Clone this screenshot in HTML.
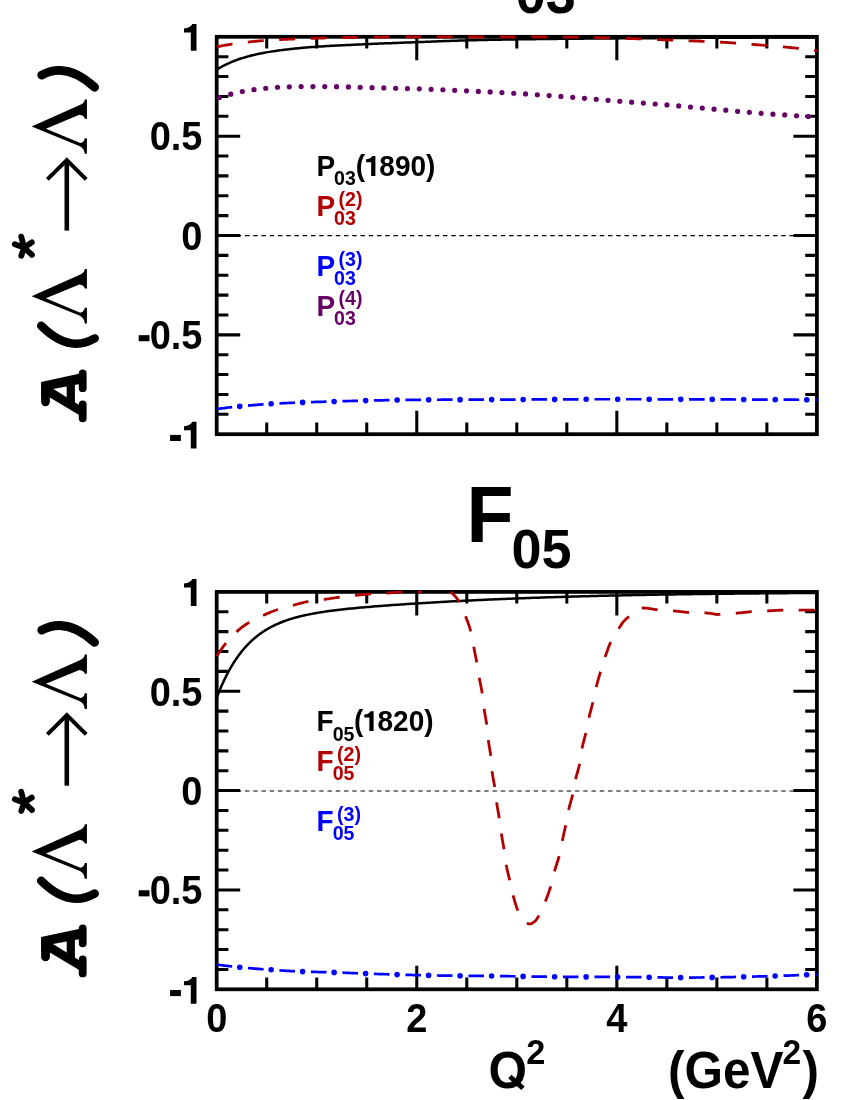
<!DOCTYPE html>
<html><head><meta charset="utf-8"><title>A(Lambda* to Lambda)</title>
<style>
html,body{margin:0;padding:0;background:#fff;}
body{width:850px;height:1100px;overflow:hidden;font-family:"Liberation Sans",sans-serif;}
svg{display:block;will-change:transform;}
svg text{font-family:"Liberation Sans",sans-serif;font-weight:bold;}
</style></head>
<body>
<svg width="850" height="1100" viewBox="0 0 850 1100">
<defs>
<g id="common">
<rect x="216.7" y="36.8" width="600.20" height="397.40" fill="none" stroke="#000" stroke-width="3.75"/>
<path d="M266.72,36.8v11.7 M266.72,434.2v-11.7 M316.73,36.8v11.7 M316.73,434.2v-11.7 M366.75,36.8v11.7 M366.75,434.2v-11.7 M416.77,36.8v23.5 M416.77,434.2v-23.5 M466.78,36.8v11.7 M466.78,434.2v-11.7 M516.80,36.8v11.7 M516.80,434.2v-11.7 M566.82,36.8v11.7 M566.82,434.2v-11.7 M616.83,36.8v23.5 M616.83,434.2v-23.5 M666.85,36.8v11.7 M666.85,434.2v-11.7 M716.87,36.8v11.7 M716.87,434.2v-11.7 M766.88,36.8v11.7 M766.88,434.2v-11.7 M216.7,414.33h11.7 M816.9,414.33h-11.7 M216.7,394.46h11.7 M816.9,394.46h-11.7 M216.7,374.59h11.7 M816.9,374.59h-11.7 M216.7,354.72h11.7 M816.9,354.72h-11.7 M216.7,334.85h23.5 M816.9,334.85h-23.5 M216.7,314.98h11.7 M816.9,314.98h-11.7 M216.7,295.11h11.7 M816.9,295.11h-11.7 M216.7,275.24h11.7 M816.9,275.24h-11.7 M216.7,255.37h11.7 M816.9,255.37h-11.7 M216.7,235.50h23.5 M816.9,235.50h-23.5 M216.7,215.63h11.7 M816.9,215.63h-11.7 M216.7,195.76h11.7 M816.9,195.76h-11.7 M216.7,175.89h11.7 M816.9,175.89h-11.7 M216.7,156.02h11.7 M816.9,156.02h-11.7 M216.7,136.15h23.5 M816.9,136.15h-23.5 M216.7,116.28h11.7 M816.9,116.28h-11.7 M216.7,96.41h11.7 M816.9,96.41h-11.7 M216.7,76.54h11.7 M816.9,76.54h-11.7 M216.7,56.67h11.7 M816.9,56.67h-11.7" fill="none" stroke="#000" stroke-width="3.05"/>
<path d="M196.50,50.80 h-5.7 v-18.4 h-6.8 v-4 q6.5,-0.4 8.3,-4.4 h4.2 Z" fill="#000"/>
<text transform="translate(202.50 150.45) scale(1 1.068)" font-size="38" text-anchor="end" fill="#000">0.5</text>
<text transform="translate(202.50 249.80) scale(1 1.068)" font-size="38" text-anchor="end" fill="#000">0</text>
<rect x="138.70" y="335.15" width="10.8" height="6.1" fill="#000"/>
<text transform="translate(202.50 349.15) scale(1 1.068)" font-size="38" text-anchor="end" fill="#000">0.5</text>
<rect x="170.10" y="434.90" width="10.8" height="6.1" fill="#000"/>
<path d="M196.50,448.60 h-5.7 v-18.4 h-6.8 v-4 q6.5,-0.4 8.3,-4.4 h4.2 Z" fill="#000"/>

<g fill="#000" stroke="none">
<path transform="translate(0 0.00)" d="M31.65,296.32 L80.89,274.29 Q84.38,272.71 84.80,269.11 L86.92,269.11 L86.92,288.38 L84.80,288.38
 Q84.17,285.2 79.30,284.57 L45.94,298.33 L80.36,312.63 Q84.17,311.9 84.80,307.86 L86.92,307.86 L86.92,323.53 L84.80,323.53
 Q84.17,317.7 79.30,315.59 Z"/>
<path transform="translate(0 -169.70)" d="M31.65,296.32 L80.89,274.29 Q84.38,272.71 84.80,269.11 L86.92,269.11 L86.92,288.38 L84.80,288.38
 Q84.17,285.2 79.30,284.57 L45.94,298.33 L80.36,312.63 Q84.17,311.9 84.80,307.86 L86.92,307.86 L86.92,323.53 L84.80,323.53
 Q84.17,317.7 79.30,315.59 Z"/>
</g>
<g fill="none" stroke="#000">
 <!-- A (Courier bold oblique look) -->
 <g stroke-linecap="round">
  <line x1="82.7" y1="373.4" x2="82.7" y2="388.2" stroke-width="7.8"/>
  <line x1="82.7" y1="404.3" x2="82.7" y2="418.3" stroke-width="7.8"/>
  <line x1="45.5" y1="390" x2="45.5" y2="401.8" stroke-width="8.7"/>
 </g>
 <polygon points="41.1,381.9 80,373.6 80,384 53,389 41.1,392" fill="#000" stroke="none"/>
 <polygon points="41.1,386 52.6,388.6 80,405.6 80,415.4 49.8,397.4 41.1,397" fill="#000" stroke="none"/>
 <rect x="66.7" y="382" width="8.2" height="24" fill="#000" stroke="none"/>
 <!-- ( -->
 <path d="M41.2,325.7 C51,335.5 63,343.4 76,343.7 C83,343.8 89.5,341.3 94.7,338.4" stroke-width="8.5" stroke-linecap="round"/>
 <!-- ) -->
 <path d="M41.7,75.1 C47.5,72 54,70.2 60.2,70.4 C73,70.8 85,78.5 94.6,87.3" stroke-width="8.8" stroke-linecap="round"/>
 <!-- arrow -->
 <line x1="66.8" y1="230.6" x2="66.8" y2="160" stroke-width="4.6"/>
 <polyline points="47.4,179.3 66.8,160.0 86.2,179.3" stroke-width="4" stroke-linejoin="miter" stroke-miterlimit="10"/>
 <!-- asterisk -->
 <g stroke-width="5.8" stroke-linecap="round">
  <line x1="24.1" y1="247.6" x2="21.2" y2="236.6"/>
  <line x1="24.1" y1="247.6" x2="31.8" y2="242.4"/>
  <line x1="24.1" y1="247.6" x2="32.0" y2="254.9"/>
  <line x1="24.1" y1="247.6" x2="21.3" y2="255.8"/>
  <line x1="24.1" y1="247.6" x2="14.8" y2="244.2"/>
 </g>
</g>

</g>
</defs>
<rect width="850" height="1100" fill="#fff"/>
<use href="#common"/>
<use href="#common" transform="translate(0 555.1)"/>

<!-- zero lines -->
<line x1="216.7" y1="235.6" x2="816.9" y2="235.6" stroke="#000" stroke-width="1.15" stroke-dasharray="4.45 3.8" stroke-dashoffset="4.7"/>
<line x1="216.7" y1="791.0" x2="816.9" y2="791.0" stroke="#000" stroke-width="1.1" stroke-dasharray="4.45 3.8" stroke-dashoffset="4.7"/>
<!-- titles -->
<text transform="translate(466.50 -12.70) scale(1 1.044)" font-size="77" text-anchor="start" fill="#000">P</text>
<text transform="translate(515.80 12.80) scale(1 1.044)" font-size="54" text-anchor="start" fill="#000">03</text>
<text transform="translate(466.50 542.40) scale(1 1.044)" font-size="77" text-anchor="start" fill="#000">F</text>
<text transform="translate(511.50 568.20) scale(1 1.044)" font-size="54" text-anchor="start" fill="#000">05</text>

<!-- x axis labels -->
<text transform="translate(216.70 1031.60) scale(1 1.068)" font-size="38" text-anchor="middle" fill="#000">0</text>
<text transform="translate(416.77 1031.60) scale(1 1.068)" font-size="38" text-anchor="middle" fill="#000">2</text>
<text transform="translate(616.83 1031.60) scale(1 1.068)" font-size="38" text-anchor="middle" fill="#000">4</text>
<text transform="translate(816.90 1031.60) scale(1 1.068)" font-size="38" text-anchor="middle" fill="#000">6</text>
<text transform="translate(488.40 1088.30) scale(1 1.044)" font-size="49.5" text-anchor="start" fill="#000">O</text>
<polygon points="511.5,1074.7 508.2,1078.2 521.2,1090 524.7,1086.5" fill="#000"/>
<text transform="translate(526.20 1063.90) scale(1 1.044)" font-size="34.3" text-anchor="start" fill="#000">2</text>
<text transform="translate(668.00 1088.30) scale(1 1.044)" font-size="49.5" text-anchor="start" fill="#000">(GeV</text>
<text transform="translate(782.60 1063.90) scale(1 1.044)" font-size="33.5" text-anchor="start" fill="#000">2</text>
<text transform="translate(802.60 1088.30) scale(1 1.044)" font-size="49.5" text-anchor="start" fill="#000">)</text>

<!-- legends -->
<text transform="translate(316.50 176.00) scale(1 1.044)" font-size="28" text-anchor="start" fill="#000">P</text>
<text transform="translate(334.10 185.40) scale(1 1.044)" font-size="19.6" text-anchor="start" fill="#000">03</text>
<text transform="translate(355.80 176.00) scale(1 1.044)" font-size="28" text-anchor="start" fill="#000">(</text>
<path transform="translate(375.40 176.00) scale(0.7442)" d="M0,0 h-5.7 v-18.4 h-6.8 v-4 q6.5,-0.4 8.3,-4.4 h4.2 Z" fill="#000"/>
<text transform="translate(379.31 176.00) scale(1 1.044)" font-size="28" text-anchor="start" fill="#000">890)</text>
<text transform="translate(316.50 215.70) scale(1 1.044)" font-size="28" text-anchor="start" fill="#b20000">P</text>
<text transform="translate(334.10 225.10) scale(1 1.044)" font-size="19.6" text-anchor="start" fill="#b20000">03</text>
<text transform="translate(338.50 205.65) scale(1 1.044)" font-size="19.6" text-anchor="start" fill="#b20000">(2)</text>
<text transform="translate(316.50 275.80) scale(1 1.044)" font-size="28" text-anchor="start" fill="#0000ff">P</text>
<text transform="translate(334.10 285.20) scale(1 1.044)" font-size="19.6" text-anchor="start" fill="#0000ff">03</text>
<text transform="translate(338.50 265.75) scale(1 1.044)" font-size="19.6" text-anchor="start" fill="#0000ff">(3)</text>
<text transform="translate(316.50 315.50) scale(1 1.044)" font-size="28" text-anchor="start" fill="#660066">P</text>
<text transform="translate(334.10 324.90) scale(1 1.044)" font-size="19.6" text-anchor="start" fill="#660066">03</text>
<text transform="translate(338.50 305.45) scale(1 1.044)" font-size="19.6" text-anchor="start" fill="#660066">(4)</text>
<text transform="translate(316.50 731.10) scale(1 1.044)" font-size="28" text-anchor="start" fill="#000">F</text>
<text transform="translate(332.70 740.50) scale(1 1.044)" font-size="19.6" text-anchor="start" fill="#000">05</text>
<text transform="translate(354.00 731.10) scale(1 1.044)" font-size="28" text-anchor="start" fill="#000">(</text>
<path transform="translate(373.60 731.10) scale(0.7442)" d="M0,0 h-5.7 v-18.4 h-6.8 v-4 q6.5,-0.4 8.3,-4.4 h4.2 Z" fill="#000"/>
<text transform="translate(377.51 731.10) scale(1 1.044)" font-size="28" text-anchor="start" fill="#000">820)</text>
<text transform="translate(316.50 770.80) scale(1 1.044)" font-size="28" text-anchor="start" fill="#b20000">F</text>
<text transform="translate(332.70 780.20) scale(1 1.044)" font-size="19.6" text-anchor="start" fill="#b20000">05</text>
<text transform="translate(337.10 760.75) scale(1 1.044)" font-size="19.6" text-anchor="start" fill="#b20000">(2)</text>
<text transform="translate(316.50 830.90) scale(1 1.044)" font-size="28" text-anchor="start" fill="#0000ff">F</text>
<text transform="translate(332.70 840.30) scale(1 1.044)" font-size="19.6" text-anchor="start" fill="#0000ff">05</text>
<text transform="translate(337.10 820.85) scale(1 1.044)" font-size="19.6" text-anchor="start" fill="#0000ff">(3)</text>

<!-- curves -->
<g fill="none">
<path d="M216.70,69.59 L218.20,68.70 L219.71,67.84 L221.21,67.01 L222.72,66.20 L224.22,65.42 L225.73,64.68 L227.23,63.98 L228.73,63.29 L230.24,62.63 L231.74,61.97 L233.25,61.34 L234.75,60.73 L236.26,60.14 L237.76,59.58 L239.26,59.05 L240.77,58.55 L242.27,58.09 L243.78,57.64 L245.28,57.21 L246.79,56.78 L248.29,56.37 L249.79,55.97 L251.30,55.58 L252.80,55.21 L254.31,54.84 L255.81,54.49 L257.32,54.15 L258.82,53.82 L260.32,53.51 L261.83,53.20 L263.33,52.91 L264.84,52.63 L266.34,52.36 L267.84,52.11 L269.35,51.86 L270.85,51.62 L272.36,51.38 L273.86,51.16 L275.37,50.94 L276.87,50.72 L278.37,50.52 L279.88,50.32 L281.38,50.12 L282.89,49.93 L284.39,49.75 L285.90,49.57 L287.40,49.40 L288.90,49.23 L290.41,49.06 L291.91,48.90 L293.42,48.74 L294.92,48.59 L296.43,48.44 L297.93,48.29 L299.43,48.14 L300.94,48.00 L302.44,47.86 L303.95,47.73 L305.45,47.60 L306.96,47.47 L308.46,47.35 L309.96,47.23 L311.47,47.11 L312.97,47.00 L314.48,46.89 L315.98,46.79 L317.49,46.68 L318.99,46.59 L320.49,46.49 L322.00,46.40 L323.50,46.30 L325.01,46.21 L326.51,46.12 L328.02,46.04 L329.52,45.95 L331.02,45.87 L332.53,45.78 L334.03,45.70 L335.54,45.62 L337.04,45.54 L338.55,45.47 L340.05,45.39 L341.55,45.32 L343.06,45.24 L344.56,45.17 L346.07,45.10 L347.57,45.02 L349.07,44.95 L350.58,44.88 L352.08,44.81 L353.59,44.74 L355.09,44.68 L356.60,44.61 L358.10,44.54 L359.60,44.47 L361.11,44.40 L362.61,44.34 L364.12,44.27 L365.62,44.20 L367.13,44.14 L368.63,44.07 L370.13,44.00 L371.64,43.94 L373.14,43.87 L374.65,43.81 L376.15,43.74 L377.66,43.68 L379.16,43.62 L380.66,43.56 L382.17,43.49 L383.67,43.43 L385.18,43.37 L386.68,43.31 L388.19,43.25 L389.69,43.19 L391.19,43.13 L392.70,43.08 L394.20,43.02 L395.71,42.96 L397.21,42.90 L398.72,42.85 L400.22,42.79 L401.72,42.73 L403.23,42.67 L404.73,42.62 L406.24,42.56 L407.74,42.50 L409.25,42.45 L410.75,42.39 L412.25,42.33 L413.76,42.28 L415.26,42.22 L416.77,42.16 L418.27,42.11 L419.78,42.05 L421.28,41.99 L422.78,41.93 L424.29,41.88 L425.79,41.82 L427.30,41.76 L428.80,41.70 L430.31,41.64 L431.81,41.58 L433.31,41.52 L434.82,41.46 L436.32,41.40 L437.83,41.35 L439.33,41.29 L440.83,41.23 L442.34,41.17 L443.84,41.12 L445.35,41.06 L446.85,41.01 L448.36,40.95 L449.86,40.90 L451.36,40.85 L452.87,40.79 L454.37,40.74 L455.88,40.69 L457.38,40.65 L458.89,40.60 L460.39,40.55 L461.89,40.51 L463.40,40.47 L464.90,40.43 L466.41,40.39 L467.91,40.35 L469.42,40.31 L470.92,40.27 L472.42,40.24 L473.93,40.20 L475.43,40.17 L476.94,40.13 L478.44,40.10 L479.95,40.06 L481.45,40.03 L482.95,40.00 L484.46,39.96 L485.96,39.93 L487.47,39.90 L488.97,39.87 L490.48,39.84 L491.98,39.81 L493.48,39.78 L494.99,39.75 L496.49,39.72 L498.00,39.70 L499.50,39.67 L501.01,39.64 L502.51,39.61 L504.01,39.59 L505.52,39.56 L507.02,39.54 L508.53,39.51 L510.03,39.49 L511.54,39.46 L513.04,39.44 L514.54,39.42 L516.05,39.39 L517.55,39.37 L519.06,39.35 L520.56,39.33 L522.06,39.31 L523.57,39.29 L525.07,39.26 L526.58,39.24 L528.08,39.22 L529.59,39.20 L531.09,39.18 L532.59,39.16 L534.10,39.15 L535.60,39.13 L537.11,39.11 L538.61,39.09 L540.12,39.07 L541.62,39.05 L543.12,39.04 L544.63,39.02 L546.13,39.00 L547.64,38.98 L549.14,38.97 L550.65,38.95 L552.15,38.94 L553.65,38.92 L555.16,38.90 L556.66,38.89 L558.17,38.87 L559.67,38.86 L561.18,38.84 L562.68,38.83 L564.18,38.81 L565.69,38.80 L567.19,38.78 L568.70,38.77 L570.20,38.76 L571.71,38.74 L573.21,38.73 L574.71,38.71 L576.22,38.70 L577.72,38.69 L579.23,38.67 L580.73,38.66 L582.24,38.65 L583.74,38.64 L585.24,38.62 L586.75,38.61 L588.25,38.60 L589.76,38.59 L591.26,38.58 L592.77,38.56 L594.27,38.55 L595.77,38.54 L597.28,38.53 L598.78,38.52 L600.29,38.51 L601.79,38.50 L603.29,38.49 L604.80,38.47 L606.30,38.46 L607.81,38.45 L609.31,38.44 L610.82,38.43 L612.32,38.42 L613.82,38.41 L615.33,38.40 L616.83,38.39 L618.34,38.38 L619.84,38.37 L621.35,38.36 L622.85,38.35 L624.35,38.34 L625.86,38.33 L627.36,38.32 L628.87,38.31 L630.37,38.30 L631.88,38.29 L633.38,38.28 L634.88,38.27 L636.39,38.26 L637.89,38.25 L639.40,38.24 L640.90,38.23 L642.41,38.22 L643.91,38.21 L645.41,38.20 L646.92,38.19 L648.42,38.18 L649.93,38.17 L651.43,38.16 L652.94,38.15 L654.44,38.14 L655.94,38.13 L657.45,38.12 L658.95,38.11 L660.46,38.10 L661.96,38.09 L663.47,38.09 L664.97,38.08 L666.47,38.07 L667.98,38.06 L669.48,38.05 L670.99,38.04 L672.49,38.03 L674.00,38.02 L675.50,38.01 L677.00,38.00 L678.51,38.00 L680.01,37.99 L681.52,37.98 L683.02,37.97 L684.53,37.96 L686.03,37.95 L687.53,37.94 L689.04,37.94 L690.54,37.93 L692.05,37.92 L693.55,37.91 L695.05,37.90 L696.56,37.90 L698.06,37.89 L699.57,37.88 L701.07,37.87 L702.58,37.86 L704.08,37.86 L705.58,37.85 L707.09,37.84 L708.59,37.83 L710.10,37.83 L711.60,37.82 L713.11,37.81 L714.61,37.80 L716.11,37.80 L717.62,37.79 L719.12,37.78 L720.63,37.78 L722.13,37.77 L723.64,37.76 L725.14,37.75 L726.64,37.75 L728.15,37.74 L729.65,37.73 L731.16,37.73 L732.66,37.72 L734.17,37.71 L735.67,37.71 L737.17,37.70 L738.68,37.69 L740.18,37.69 L741.69,37.68 L743.19,37.67 L744.70,37.67 L746.20,37.66 L747.70,37.65 L749.21,37.65 L750.71,37.64 L752.22,37.63 L753.72,37.63 L755.23,37.62 L756.73,37.61 L758.23,37.61 L759.74,37.60 L761.24,37.60 L762.75,37.59 L764.25,37.58 L765.76,37.58 L767.26,37.57 L768.76,37.56 L770.27,37.56 L771.77,37.55 L773.28,37.55 L774.78,37.54 L776.28,37.54 L777.79,37.53 L779.29,37.52 L780.80,37.52 L782.30,37.51 L783.81,37.51 L785.31,37.50 L786.81,37.50 L788.32,37.49 L789.82,37.49 L791.33,37.48 L792.83,37.47 L794.34,37.47 L795.84,37.46 L797.34,37.46 L798.85,37.45 L800.35,37.45 L801.86,37.44 L803.36,37.44 L804.87,37.43 L806.37,37.43 L807.87,37.42 L809.38,37.42 L810.88,37.41 L812.39,37.41 L813.89,37.41 L815.40,37.40 L816.90,37.40" stroke="#000" stroke-width="2.5"/>
<path d="M216.70,46.93 L218.20,46.60 L219.71,46.29 L221.21,45.98 L222.72,45.68 L224.22,45.39 L225.73,45.11 L227.23,44.84 L228.73,44.58 L230.24,44.33 L231.74,44.09 L233.25,43.86 L234.75,43.65 L236.26,43.44 L237.76,43.24 L239.26,43.05 L240.77,42.87 L242.27,42.70 L243.78,42.53 L245.28,42.36 L246.79,42.19 L248.29,42.03 L249.79,41.86 L251.30,41.70 L252.80,41.55 L254.31,41.40 L255.81,41.25 L257.32,41.11 L258.82,40.98 L260.32,40.85 L261.83,40.72 L263.33,40.61 L264.84,40.50 L266.34,40.40 L267.84,40.31 L269.35,40.21 L270.85,40.13 L272.36,40.04 L273.86,39.95 L275.37,39.87 L276.87,39.78 L278.37,39.70 L279.88,39.63 L281.38,39.55 L282.89,39.47 L284.39,39.40 L285.90,39.33 L287.40,39.26 L288.90,39.19 L290.41,39.12 L291.91,39.06 L293.42,38.99 L294.92,38.93 L296.43,38.87 L297.93,38.81 L299.43,38.75 L300.94,38.70 L302.44,38.64 L303.95,38.59 L305.45,38.54 L306.96,38.49 L308.46,38.44 L309.96,38.39 L311.47,38.34 L312.97,38.30 L314.48,38.25 L315.98,38.21 L317.49,38.17 L318.99,38.13 L320.49,38.09 L322.00,38.05 L323.50,38.01 L325.01,37.97 L326.51,37.94 L328.02,37.90 L329.52,37.86 L331.02,37.83 L332.53,37.79 L334.03,37.76 L335.54,37.73 L337.04,37.69 L338.55,37.66 L340.05,37.63 L341.55,37.60 L343.06,37.57 L344.56,37.54 L346.07,37.51 L347.57,37.48 L349.07,37.46 L350.58,37.43 L352.08,37.40 L353.59,37.38 L355.09,37.36 L356.60,37.33 L358.10,37.31 L359.60,37.29 L361.11,37.27 L362.61,37.25 L364.12,37.23 L365.62,37.21 L367.13,37.19 L368.63,37.18 L370.13,37.16 L371.64,37.14 L373.14,37.12 L374.65,37.11 L376.15,37.09 L377.66,37.07 L379.16,37.06 L380.66,37.04 L382.17,37.02 L383.67,37.01 L385.18,36.99 L386.68,36.98 L388.19,36.96 L389.69,36.95 L391.19,36.93 L392.70,36.92 L394.20,36.91 L395.71,36.89 L397.21,36.88 L398.72,36.87 L400.22,36.86 L401.72,36.85 L403.23,36.84 L404.73,36.83 L406.24,36.83 L407.74,36.82 L409.25,36.81 L410.75,36.81 L412.25,36.80 L413.76,36.80 L415.26,36.80 L416.77,36.80 L418.27,36.80 L419.78,36.80 L421.28,36.80 L422.78,36.80 L424.29,36.80 L425.79,36.80 L427.30,36.80 L428.80,36.80 L430.31,36.80 L431.81,36.80 L433.31,36.80 L434.82,36.80 L436.32,36.80 L437.83,36.80 L439.33,36.80 L440.83,36.80 L442.34,36.80 L443.84,36.80 L445.35,36.80 L446.85,36.80 L448.36,36.80 L449.86,36.80 L451.36,36.80 L452.87,36.80 L454.37,36.80 L455.88,36.80 L457.38,36.80 L458.89,36.80 L460.39,36.80 L461.89,36.80 L463.40,36.80 L464.90,36.80 L466.41,36.80 L467.91,36.80 L469.42,36.80 L470.92,36.80 L472.42,36.80 L473.93,36.80 L475.43,36.80 L476.94,36.80 L478.44,36.80 L479.95,36.80 L481.45,36.80 L482.95,36.80 L484.46,36.80 L485.96,36.80 L487.47,36.80 L488.97,36.80 L490.48,36.80 L491.98,36.80 L493.48,36.80 L494.99,36.80 L496.49,36.80 L498.00,36.80 L499.50,36.80 L501.01,36.80 L502.51,36.80 L504.01,36.80 L505.52,36.80 L507.02,36.80 L508.53,36.80 L510.03,36.80 L511.54,36.80 L513.04,36.80 L514.54,36.80 L516.05,36.80 L517.55,36.80 L519.06,36.80 L520.56,36.80 L522.06,36.80 L523.57,36.81 L525.07,36.81 L526.58,36.82 L528.08,36.82 L529.59,36.83 L531.09,36.83 L532.59,36.84 L534.10,36.85 L535.60,36.85 L537.11,36.86 L538.61,36.87 L540.12,36.88 L541.62,36.89 L543.12,36.90 L544.63,36.91 L546.13,36.92 L547.64,36.93 L549.14,36.94 L550.65,36.96 L552.15,36.97 L553.65,36.98 L555.16,36.99 L556.66,37.01 L558.17,37.02 L559.67,37.03 L561.18,37.05 L562.68,37.06 L564.18,37.07 L565.69,37.09 L567.19,37.10 L568.70,37.12 L570.20,37.13 L571.71,37.15 L573.21,37.18 L574.71,37.20 L576.22,37.22 L577.72,37.25 L579.23,37.28 L580.73,37.30 L582.24,37.33 L583.74,37.36 L585.24,37.40 L586.75,37.43 L588.25,37.46 L589.76,37.49 L591.26,37.53 L592.77,37.56 L594.27,37.60 L595.77,37.63 L597.28,37.67 L598.78,37.70 L600.29,37.74 L601.79,37.77 L603.29,37.80 L604.80,37.84 L606.30,37.87 L607.81,37.91 L609.31,37.94 L610.82,37.98 L612.32,38.02 L613.82,38.06 L615.33,38.09 L616.83,38.13 L618.34,38.17 L619.84,38.22 L621.35,38.26 L622.85,38.30 L624.35,38.34 L625.86,38.39 L627.36,38.44 L628.87,38.49 L630.37,38.54 L631.88,38.59 L633.38,38.64 L634.88,38.69 L636.39,38.75 L637.89,38.81 L639.40,38.86 L640.90,38.92 L642.41,38.98 L643.91,39.04 L645.41,39.10 L646.92,39.16 L648.42,39.22 L649.93,39.29 L651.43,39.35 L652.94,39.41 L654.44,39.47 L655.94,39.54 L657.45,39.60 L658.95,39.66 L660.46,39.72 L661.96,39.78 L663.47,39.84 L664.97,39.90 L666.47,39.96 L667.98,40.02 L669.48,40.08 L670.99,40.14 L672.49,40.19 L674.00,40.25 L675.50,40.31 L677.00,40.36 L678.51,40.42 L680.01,40.47 L681.52,40.52 L683.02,40.58 L684.53,40.63 L686.03,40.69 L687.53,40.74 L689.04,40.80 L690.54,40.85 L692.05,40.91 L693.55,40.96 L695.05,41.02 L696.56,41.08 L698.06,41.13 L699.57,41.19 L701.07,41.25 L702.58,41.31 L704.08,41.38 L705.58,41.44 L707.09,41.51 L708.59,41.57 L710.10,41.64 L711.60,41.71 L713.11,41.78 L714.61,41.85 L716.11,41.93 L717.62,42.00 L719.12,42.08 L720.63,42.17 L722.13,42.25 L723.64,42.34 L725.14,42.43 L726.64,42.52 L728.15,42.62 L729.65,42.71 L731.16,42.81 L732.66,42.91 L734.17,43.02 L735.67,43.12 L737.17,43.23 L738.68,43.34 L740.18,43.45 L741.69,43.56 L743.19,43.67 L744.70,43.78 L746.20,43.90 L747.70,44.01 L749.21,44.13 L750.71,44.25 L752.22,44.37 L753.72,44.49 L755.23,44.61 L756.73,44.73 L758.23,44.85 L759.74,44.97 L761.24,45.09 L762.75,45.21 L764.25,45.33 L765.76,45.45 L767.26,45.57 L768.76,45.69 L770.27,45.82 L771.77,45.94 L773.28,46.06 L774.78,46.19 L776.28,46.31 L777.79,46.44 L779.29,46.57 L780.80,46.70 L782.30,46.83 L783.81,46.96 L785.31,47.09 L786.81,47.23 L788.32,47.37 L789.82,47.51 L791.33,47.66 L792.83,47.81 L794.34,47.96 L795.84,48.11 L797.34,48.27 L798.85,48.43 L800.35,48.59 L801.86,48.76 L803.36,48.94 L804.87,49.12 L806.37,49.31 L807.87,49.50 L809.38,49.69 L810.88,49.89 L812.39,50.09 L813.89,50.29 L815.40,50.50 L816.90,50.71" stroke="#b20000" stroke-width="2.8" stroke-dasharray="16 15.5"/>
<path d="M216.70,98.40 L218.20,97.90 L219.71,97.42 L221.21,96.95 L222.72,96.49 L224.22,96.03 L225.73,95.60 L227.23,95.17 L228.73,94.75 L230.24,94.35 L231.74,93.95 L233.25,93.56 L234.75,93.18 L236.26,92.81 L237.76,92.45 L239.26,92.11 L240.77,91.78 L242.27,91.49 L243.78,91.21 L245.28,90.95 L246.79,90.71 L248.29,90.48 L249.79,90.25 L251.30,90.04 L252.80,89.83 L254.31,89.63 L255.81,89.43 L257.32,89.23 L258.82,89.04 L260.32,88.86 L261.83,88.68 L263.33,88.51 L264.84,88.35 L266.34,88.20 L267.84,88.05 L269.35,87.91 L270.85,87.77 L272.36,87.64 L273.86,87.52 L275.37,87.41 L276.87,87.31 L278.37,87.22 L279.88,87.15 L281.38,87.08 L282.89,87.01 L284.39,86.95 L285.90,86.89 L287.40,86.84 L288.90,86.79 L290.41,86.74 L291.91,86.69 L293.42,86.64 L294.92,86.59 L296.43,86.54 L297.93,86.51 L299.43,86.49 L300.94,86.48 L302.44,86.48 L303.95,86.48 L305.45,86.49 L306.96,86.50 L308.46,86.51 L309.96,86.52 L311.47,86.53 L312.97,86.54 L314.48,86.54 L315.98,86.55 L317.49,86.56 L318.99,86.57 L320.49,86.57 L322.00,86.58 L323.50,86.59 L325.01,86.59 L326.51,86.60 L328.02,86.61 L329.52,86.62 L331.02,86.63 L332.53,86.64 L334.03,86.65 L335.54,86.66 L337.04,86.68 L338.55,86.69 L340.05,86.72 L341.55,86.74 L343.06,86.77 L344.56,86.81 L346.07,86.85 L347.57,86.89 L349.07,86.93 L350.58,86.97 L352.08,87.02 L353.59,87.07 L355.09,87.12 L356.60,87.17 L358.10,87.23 L359.60,87.28 L361.11,87.33 L362.61,87.38 L364.12,87.43 L365.62,87.48 L367.13,87.53 L368.63,87.58 L370.13,87.62 L371.64,87.66 L373.14,87.70 L374.65,87.74 L376.15,87.78 L377.66,87.82 L379.16,87.86 L380.66,87.89 L382.17,87.93 L383.67,87.97 L385.18,88.00 L386.68,88.04 L388.19,88.07 L389.69,88.11 L391.19,88.14 L392.70,88.18 L394.20,88.21 L395.71,88.25 L397.21,88.28 L398.72,88.32 L400.22,88.35 L401.72,88.39 L403.23,88.43 L404.73,88.47 L406.24,88.50 L407.74,88.54 L409.25,88.58 L410.75,88.62 L412.25,88.67 L413.76,88.71 L415.26,88.75 L416.77,88.80 L418.27,88.84 L419.78,88.89 L421.28,88.94 L422.78,88.99 L424.29,89.04 L425.79,89.10 L427.30,89.15 L428.80,89.21 L430.31,89.26 L431.81,89.32 L433.31,89.38 L434.82,89.44 L436.32,89.50 L437.83,89.56 L439.33,89.62 L440.83,89.69 L442.34,89.75 L443.84,89.81 L445.35,89.88 L446.85,89.94 L448.36,90.01 L449.86,90.08 L451.36,90.14 L452.87,90.21 L454.37,90.28 L455.88,90.35 L457.38,90.42 L458.89,90.49 L460.39,90.55 L461.89,90.62 L463.40,90.69 L464.90,90.76 L466.41,90.83 L467.91,90.90 L469.42,90.97 L470.92,91.04 L472.42,91.11 L473.93,91.18 L475.43,91.25 L476.94,91.32 L478.44,91.39 L479.95,91.46 L481.45,91.53 L482.95,91.60 L484.46,91.68 L485.96,91.75 L487.47,91.83 L488.97,91.90 L490.48,91.98 L491.98,92.05 L493.48,92.13 L494.99,92.20 L496.49,92.28 L498.00,92.36 L499.50,92.44 L501.01,92.52 L502.51,92.60 L504.01,92.68 L505.52,92.76 L507.02,92.85 L508.53,92.93 L510.03,93.02 L511.54,93.10 L513.04,93.19 L514.54,93.27 L516.05,93.36 L517.55,93.45 L519.06,93.54 L520.56,93.63 L522.06,93.73 L523.57,93.82 L525.07,93.92 L526.58,94.01 L528.08,94.11 L529.59,94.21 L531.09,94.31 L532.59,94.41 L534.10,94.51 L535.60,94.61 L537.11,94.71 L538.61,94.82 L540.12,94.92 L541.62,95.02 L543.12,95.13 L544.63,95.24 L546.13,95.34 L547.64,95.45 L549.14,95.56 L550.65,95.67 L552.15,95.78 L553.65,95.88 L555.16,95.99 L556.66,96.10 L558.17,96.21 L559.67,96.33 L561.18,96.44 L562.68,96.55 L564.18,96.66 L565.69,96.78 L567.19,96.89 L568.70,97.01 L570.20,97.13 L571.71,97.25 L573.21,97.37 L574.71,97.49 L576.22,97.61 L577.72,97.74 L579.23,97.86 L580.73,97.98 L582.24,98.11 L583.74,98.24 L585.24,98.36 L586.75,98.49 L588.25,98.62 L589.76,98.74 L591.26,98.87 L592.77,99.00 L594.27,99.13 L595.77,99.25 L597.28,99.38 L598.78,99.51 L600.29,99.64 L601.79,99.76 L603.29,99.89 L604.80,100.02 L606.30,100.15 L607.81,100.27 L609.31,100.40 L610.82,100.52 L612.32,100.65 L613.82,100.77 L615.33,100.89 L616.83,101.02 L618.34,101.14 L619.84,101.26 L621.35,101.38 L622.85,101.50 L624.35,101.62 L625.86,101.74 L627.36,101.85 L628.87,101.97 L630.37,102.09 L631.88,102.20 L633.38,102.32 L634.88,102.44 L636.39,102.55 L637.89,102.67 L639.40,102.78 L640.90,102.90 L642.41,103.01 L643.91,103.13 L645.41,103.25 L646.92,103.36 L648.42,103.48 L649.93,103.60 L651.43,103.71 L652.94,103.83 L654.44,103.95 L655.94,104.07 L657.45,104.19 L658.95,104.31 L660.46,104.43 L661.96,104.55 L663.47,104.67 L664.97,104.80 L666.47,104.92 L667.98,105.05 L669.48,105.18 L670.99,105.30 L672.49,105.43 L674.00,105.56 L675.50,105.69 L677.00,105.82 L678.51,105.95 L680.01,106.09 L681.52,106.22 L683.02,106.35 L684.53,106.49 L686.03,106.62 L687.53,106.76 L689.04,106.89 L690.54,107.03 L692.05,107.16 L693.55,107.30 L695.05,107.43 L696.56,107.57 L698.06,107.71 L699.57,107.84 L701.07,107.98 L702.58,108.11 L704.08,108.25 L705.58,108.39 L707.09,108.52 L708.59,108.66 L710.10,108.79 L711.60,108.93 L713.11,109.06 L714.61,109.19 L716.11,109.33 L717.62,109.46 L719.12,109.60 L720.63,109.74 L722.13,109.87 L723.64,110.01 L725.14,110.15 L726.64,110.29 L728.15,110.43 L729.65,110.57 L731.16,110.71 L732.66,110.85 L734.17,110.99 L735.67,111.13 L737.17,111.27 L738.68,111.40 L740.18,111.54 L741.69,111.68 L743.19,111.81 L744.70,111.95 L746.20,112.08 L747.70,112.21 L749.21,112.34 L750.71,112.47 L752.22,112.60 L753.72,112.73 L755.23,112.85 L756.73,112.97 L758.23,113.09 L759.74,113.21 L761.24,113.33 L762.75,113.44 L764.25,113.55 L765.76,113.67 L767.26,113.77 L768.76,113.88 L770.27,113.99 L771.77,114.10 L773.28,114.20 L774.78,114.30 L776.28,114.41 L777.79,114.51 L779.29,114.61 L780.80,114.71 L782.30,114.81 L783.81,114.91 L785.31,115.01 L786.81,115.11 L788.32,115.20 L789.82,115.30 L791.33,115.40 L792.83,115.50 L794.34,115.59 L795.84,115.69 L797.34,115.79 L798.85,115.88 L800.35,115.98 L801.86,116.08 L803.36,116.18 L804.87,116.28 L806.37,116.38 L807.87,116.48 L809.38,116.58 L810.88,116.68 L812.39,116.78 L813.89,116.88 L815.40,116.98 L816.90,117.07" stroke="#660066" stroke-width="5.2" stroke-linecap="round" stroke-dasharray="0 11.82" stroke-dashoffset="-2.9"/>
<path d="M216.70,408.97 L218.20,408.78 L219.71,408.59 L221.21,408.41 L222.72,408.23 L224.22,408.05 L225.73,407.87 L227.23,407.70 L228.73,407.53 L230.24,407.36 L231.74,407.20 L233.25,407.03 L234.75,406.88 L236.26,406.72 L237.76,406.57 L239.26,406.42 L240.77,406.28 L242.27,406.14 L243.78,406.00 L245.28,405.86 L246.79,405.72 L248.29,405.58 L249.79,405.44 L251.30,405.31 L252.80,405.17 L254.31,405.04 L255.81,404.92 L257.32,404.79 L258.82,404.67 L260.32,404.55 L261.83,404.43 L263.33,404.32 L264.84,404.21 L266.34,404.11 L267.84,404.01 L269.35,403.92 L270.85,403.83 L272.36,403.74 L273.86,403.66 L275.37,403.58 L276.87,403.50 L278.37,403.42 L279.88,403.35 L281.38,403.28 L282.89,403.21 L284.39,403.14 L285.90,403.07 L287.40,403.01 L288.90,402.94 L290.41,402.88 L291.91,402.82 L293.42,402.76 L294.92,402.70 L296.43,402.64 L297.93,402.59 L299.43,402.53 L300.94,402.47 L302.44,402.42 L303.95,402.36 L305.45,402.31 L306.96,402.26 L308.46,402.21 L309.96,402.16 L311.47,402.11 L312.97,402.06 L314.48,402.01 L315.98,401.96 L317.49,401.92 L318.99,401.87 L320.49,401.82 L322.00,401.78 L323.50,401.74 L325.01,401.69 L326.51,401.65 L328.02,401.60 L329.52,401.56 L331.02,401.52 L332.53,401.48 L334.03,401.43 L335.54,401.39 L337.04,401.35 L338.55,401.31 L340.05,401.27 L341.55,401.23 L343.06,401.18 L344.56,401.14 L346.07,401.10 L347.57,401.06 L349.07,401.02 L350.58,400.98 L352.08,400.94 L353.59,400.91 L355.09,400.87 L356.60,400.83 L358.10,400.79 L359.60,400.76 L361.11,400.72 L362.61,400.69 L364.12,400.66 L365.62,400.62 L367.13,400.59 L368.63,400.56 L370.13,400.53 L371.64,400.49 L373.14,400.46 L374.65,400.43 L376.15,400.40 L377.66,400.37 L379.16,400.34 L380.66,400.31 L382.17,400.28 L383.67,400.25 L385.18,400.22 L386.68,400.19 L388.19,400.17 L389.69,400.14 L391.19,400.12 L392.70,400.09 L394.20,400.07 L395.71,400.05 L397.21,400.03 L398.72,400.01 L400.22,399.99 L401.72,399.98 L403.23,399.96 L404.73,399.94 L406.24,399.93 L407.74,399.91 L409.25,399.90 L410.75,399.88 L412.25,399.87 L413.76,399.86 L415.26,399.85 L416.77,399.84 L418.27,399.83 L419.78,399.82 L421.28,399.81 L422.78,399.80 L424.29,399.80 L425.79,399.79 L427.30,399.78 L428.80,399.78 L430.31,399.77 L431.81,399.76 L433.31,399.76 L434.82,399.75 L436.32,399.75 L437.83,399.74 L439.33,399.73 L440.83,399.73 L442.34,399.72 L443.84,399.72 L445.35,399.71 L446.85,399.71 L448.36,399.70 L449.86,399.70 L451.36,399.69 L452.87,399.69 L454.37,399.69 L455.88,399.68 L457.38,399.68 L458.89,399.67 L460.39,399.67 L461.89,399.66 L463.40,399.66 L464.90,399.66 L466.41,399.65 L467.91,399.65 L469.42,399.65 L470.92,399.64 L472.42,399.64 L473.93,399.63 L475.43,399.63 L476.94,399.63 L478.44,399.62 L479.95,399.62 L481.45,399.62 L482.95,399.61 L484.46,399.61 L485.96,399.61 L487.47,399.60 L488.97,399.60 L490.48,399.60 L491.98,399.59 L493.48,399.59 L494.99,399.58 L496.49,399.58 L498.00,399.58 L499.50,399.57 L501.01,399.57 L502.51,399.57 L504.01,399.56 L505.52,399.56 L507.02,399.55 L508.53,399.55 L510.03,399.55 L511.54,399.54 L513.04,399.54 L514.54,399.53 L516.05,399.53 L517.55,399.52 L519.06,399.52 L520.56,399.52 L522.06,399.51 L523.57,399.51 L525.07,399.50 L526.58,399.49 L528.08,399.49 L529.59,399.48 L531.09,399.48 L532.59,399.47 L534.10,399.47 L535.60,399.46 L537.11,399.46 L538.61,399.45 L540.12,399.44 L541.62,399.44 L543.12,399.43 L544.63,399.43 L546.13,399.42 L547.64,399.41 L549.14,399.41 L550.65,399.40 L552.15,399.40 L553.65,399.39 L555.16,399.39 L556.66,399.38 L558.17,399.37 L559.67,399.37 L561.18,399.36 L562.68,399.36 L564.18,399.35 L565.69,399.34 L567.19,399.34 L568.70,399.33 L570.20,399.33 L571.71,399.32 L573.21,399.32 L574.71,399.31 L576.22,399.31 L577.72,399.30 L579.23,399.30 L580.73,399.29 L582.24,399.29 L583.74,399.28 L585.24,399.28 L586.75,399.27 L588.25,399.27 L589.76,399.27 L591.26,399.26 L592.77,399.26 L594.27,399.26 L595.77,399.25 L597.28,399.25 L598.78,399.25 L600.29,399.24 L601.79,399.24 L603.29,399.24 L604.80,399.24 L606.30,399.24 L607.81,399.23 L609.31,399.23 L610.82,399.23 L612.32,399.23 L613.82,399.23 L615.33,399.23 L616.83,399.23 L618.34,399.23 L619.84,399.23 L621.35,399.23 L622.85,399.23 L624.35,399.23 L625.86,399.23 L627.36,399.23 L628.87,399.23 L630.37,399.23 L631.88,399.24 L633.38,399.24 L634.88,399.24 L636.39,399.24 L637.89,399.24 L639.40,399.24 L640.90,399.25 L642.41,399.25 L643.91,399.25 L645.41,399.25 L646.92,399.26 L648.42,399.26 L649.93,399.26 L651.43,399.26 L652.94,399.27 L654.44,399.27 L655.94,399.27 L657.45,399.27 L658.95,399.28 L660.46,399.28 L661.96,399.28 L663.47,399.29 L664.97,399.29 L666.47,399.29 L667.98,399.30 L669.48,399.30 L670.99,399.30 L672.49,399.31 L674.00,399.31 L675.50,399.32 L677.00,399.32 L678.51,399.32 L680.01,399.33 L681.52,399.33 L683.02,399.34 L684.53,399.34 L686.03,399.34 L687.53,399.35 L689.04,399.35 L690.54,399.36 L692.05,399.36 L693.55,399.36 L695.05,399.37 L696.56,399.37 L698.06,399.38 L699.57,399.38 L701.07,399.38 L702.58,399.39 L704.08,399.39 L705.58,399.40 L707.09,399.40 L708.59,399.41 L710.10,399.41 L711.60,399.41 L713.11,399.42 L714.61,399.42 L716.11,399.43 L717.62,399.43 L719.12,399.43 L720.63,399.44 L722.13,399.44 L723.64,399.45 L725.14,399.45 L726.64,399.45 L728.15,399.46 L729.65,399.46 L731.16,399.47 L732.66,399.47 L734.17,399.48 L735.67,399.48 L737.17,399.49 L738.68,399.49 L740.18,399.50 L741.69,399.50 L743.19,399.51 L744.70,399.51 L746.20,399.52 L747.70,399.52 L749.21,399.53 L750.71,399.53 L752.22,399.54 L753.72,399.55 L755.23,399.55 L756.73,399.56 L758.23,399.56 L759.74,399.57 L761.24,399.57 L762.75,399.58 L764.25,399.59 L765.76,399.59 L767.26,399.60 L768.76,399.60 L770.27,399.61 L771.77,399.62 L773.28,399.62 L774.78,399.63 L776.28,399.64 L777.79,399.64 L779.29,399.65 L780.80,399.66 L782.30,399.66 L783.81,399.67 L785.31,399.68 L786.81,399.68 L788.32,399.69 L789.82,399.70 L791.33,399.70 L792.83,399.71 L794.34,399.72 L795.84,399.72 L797.34,399.73 L798.85,399.74 L800.35,399.74 L801.86,399.75 L803.36,399.76 L804.87,399.77 L806.37,399.77 L807.87,399.78 L809.38,399.79 L810.88,399.80 L812.39,399.80 L813.89,399.81 L815.40,399.82 L816.90,399.82" stroke="#0000ff" stroke-width="2.7" stroke-dasharray="15.6 15.91"/>
<path d="M216.70,408.97 L218.20,408.78 L219.71,408.59 L221.21,408.41 L222.72,408.23 L224.22,408.05 L225.73,407.87 L227.23,407.70 L228.73,407.53 L230.24,407.36 L231.74,407.20 L233.25,407.03 L234.75,406.88 L236.26,406.72 L237.76,406.57 L239.26,406.42 L240.77,406.28 L242.27,406.14 L243.78,406.00 L245.28,405.86 L246.79,405.72 L248.29,405.58 L249.79,405.44 L251.30,405.31 L252.80,405.17 L254.31,405.04 L255.81,404.92 L257.32,404.79 L258.82,404.67 L260.32,404.55 L261.83,404.43 L263.33,404.32 L264.84,404.21 L266.34,404.11 L267.84,404.01 L269.35,403.92 L270.85,403.83 L272.36,403.74 L273.86,403.66 L275.37,403.58 L276.87,403.50 L278.37,403.42 L279.88,403.35 L281.38,403.28 L282.89,403.21 L284.39,403.14 L285.90,403.07 L287.40,403.01 L288.90,402.94 L290.41,402.88 L291.91,402.82 L293.42,402.76 L294.92,402.70 L296.43,402.64 L297.93,402.59 L299.43,402.53 L300.94,402.47 L302.44,402.42 L303.95,402.36 L305.45,402.31 L306.96,402.26 L308.46,402.21 L309.96,402.16 L311.47,402.11 L312.97,402.06 L314.48,402.01 L315.98,401.96 L317.49,401.92 L318.99,401.87 L320.49,401.82 L322.00,401.78 L323.50,401.74 L325.01,401.69 L326.51,401.65 L328.02,401.60 L329.52,401.56 L331.02,401.52 L332.53,401.48 L334.03,401.43 L335.54,401.39 L337.04,401.35 L338.55,401.31 L340.05,401.27 L341.55,401.23 L343.06,401.18 L344.56,401.14 L346.07,401.10 L347.57,401.06 L349.07,401.02 L350.58,400.98 L352.08,400.94 L353.59,400.91 L355.09,400.87 L356.60,400.83 L358.10,400.79 L359.60,400.76 L361.11,400.72 L362.61,400.69 L364.12,400.66 L365.62,400.62 L367.13,400.59 L368.63,400.56 L370.13,400.53 L371.64,400.49 L373.14,400.46 L374.65,400.43 L376.15,400.40 L377.66,400.37 L379.16,400.34 L380.66,400.31 L382.17,400.28 L383.67,400.25 L385.18,400.22 L386.68,400.19 L388.19,400.17 L389.69,400.14 L391.19,400.12 L392.70,400.09 L394.20,400.07 L395.71,400.05 L397.21,400.03 L398.72,400.01 L400.22,399.99 L401.72,399.98 L403.23,399.96 L404.73,399.94 L406.24,399.93 L407.74,399.91 L409.25,399.90 L410.75,399.88 L412.25,399.87 L413.76,399.86 L415.26,399.85 L416.77,399.84 L418.27,399.83 L419.78,399.82 L421.28,399.81 L422.78,399.80 L424.29,399.80 L425.79,399.79 L427.30,399.78 L428.80,399.78 L430.31,399.77 L431.81,399.76 L433.31,399.76 L434.82,399.75 L436.32,399.75 L437.83,399.74 L439.33,399.73 L440.83,399.73 L442.34,399.72 L443.84,399.72 L445.35,399.71 L446.85,399.71 L448.36,399.70 L449.86,399.70 L451.36,399.69 L452.87,399.69 L454.37,399.69 L455.88,399.68 L457.38,399.68 L458.89,399.67 L460.39,399.67 L461.89,399.66 L463.40,399.66 L464.90,399.66 L466.41,399.65 L467.91,399.65 L469.42,399.65 L470.92,399.64 L472.42,399.64 L473.93,399.63 L475.43,399.63 L476.94,399.63 L478.44,399.62 L479.95,399.62 L481.45,399.62 L482.95,399.61 L484.46,399.61 L485.96,399.61 L487.47,399.60 L488.97,399.60 L490.48,399.60 L491.98,399.59 L493.48,399.59 L494.99,399.58 L496.49,399.58 L498.00,399.58 L499.50,399.57 L501.01,399.57 L502.51,399.57 L504.01,399.56 L505.52,399.56 L507.02,399.55 L508.53,399.55 L510.03,399.55 L511.54,399.54 L513.04,399.54 L514.54,399.53 L516.05,399.53 L517.55,399.52 L519.06,399.52 L520.56,399.52 L522.06,399.51 L523.57,399.51 L525.07,399.50 L526.58,399.49 L528.08,399.49 L529.59,399.48 L531.09,399.48 L532.59,399.47 L534.10,399.47 L535.60,399.46 L537.11,399.46 L538.61,399.45 L540.12,399.44 L541.62,399.44 L543.12,399.43 L544.63,399.43 L546.13,399.42 L547.64,399.41 L549.14,399.41 L550.65,399.40 L552.15,399.40 L553.65,399.39 L555.16,399.39 L556.66,399.38 L558.17,399.37 L559.67,399.37 L561.18,399.36 L562.68,399.36 L564.18,399.35 L565.69,399.34 L567.19,399.34 L568.70,399.33 L570.20,399.33 L571.71,399.32 L573.21,399.32 L574.71,399.31 L576.22,399.31 L577.72,399.30 L579.23,399.30 L580.73,399.29 L582.24,399.29 L583.74,399.28 L585.24,399.28 L586.75,399.27 L588.25,399.27 L589.76,399.27 L591.26,399.26 L592.77,399.26 L594.27,399.26 L595.77,399.25 L597.28,399.25 L598.78,399.25 L600.29,399.24 L601.79,399.24 L603.29,399.24 L604.80,399.24 L606.30,399.24 L607.81,399.23 L609.31,399.23 L610.82,399.23 L612.32,399.23 L613.82,399.23 L615.33,399.23 L616.83,399.23 L618.34,399.23 L619.84,399.23 L621.35,399.23 L622.85,399.23 L624.35,399.23 L625.86,399.23 L627.36,399.23 L628.87,399.23 L630.37,399.23 L631.88,399.24 L633.38,399.24 L634.88,399.24 L636.39,399.24 L637.89,399.24 L639.40,399.24 L640.90,399.25 L642.41,399.25 L643.91,399.25 L645.41,399.25 L646.92,399.26 L648.42,399.26 L649.93,399.26 L651.43,399.26 L652.94,399.27 L654.44,399.27 L655.94,399.27 L657.45,399.27 L658.95,399.28 L660.46,399.28 L661.96,399.28 L663.47,399.29 L664.97,399.29 L666.47,399.29 L667.98,399.30 L669.48,399.30 L670.99,399.30 L672.49,399.31 L674.00,399.31 L675.50,399.32 L677.00,399.32 L678.51,399.32 L680.01,399.33 L681.52,399.33 L683.02,399.34 L684.53,399.34 L686.03,399.34 L687.53,399.35 L689.04,399.35 L690.54,399.36 L692.05,399.36 L693.55,399.36 L695.05,399.37 L696.56,399.37 L698.06,399.38 L699.57,399.38 L701.07,399.38 L702.58,399.39 L704.08,399.39 L705.58,399.40 L707.09,399.40 L708.59,399.41 L710.10,399.41 L711.60,399.41 L713.11,399.42 L714.61,399.42 L716.11,399.43 L717.62,399.43 L719.12,399.43 L720.63,399.44 L722.13,399.44 L723.64,399.45 L725.14,399.45 L726.64,399.45 L728.15,399.46 L729.65,399.46 L731.16,399.47 L732.66,399.47 L734.17,399.48 L735.67,399.48 L737.17,399.49 L738.68,399.49 L740.18,399.50 L741.69,399.50 L743.19,399.51 L744.70,399.51 L746.20,399.52 L747.70,399.52 L749.21,399.53 L750.71,399.53 L752.22,399.54 L753.72,399.55 L755.23,399.55 L756.73,399.56 L758.23,399.56 L759.74,399.57 L761.24,399.57 L762.75,399.58 L764.25,399.59 L765.76,399.59 L767.26,399.60 L768.76,399.60 L770.27,399.61 L771.77,399.62 L773.28,399.62 L774.78,399.63 L776.28,399.64 L777.79,399.64 L779.29,399.65 L780.80,399.66 L782.30,399.66 L783.81,399.67 L785.31,399.68 L786.81,399.68 L788.32,399.69 L789.82,399.70 L791.33,399.70 L792.83,399.71 L794.34,399.72 L795.84,399.72 L797.34,399.73 L798.85,399.74 L800.35,399.74 L801.86,399.75 L803.36,399.76 L804.87,399.77 L806.37,399.77 L807.87,399.78 L809.38,399.79 L810.88,399.80 L812.39,399.80 L813.89,399.81 L815.40,399.82 L816.90,399.82" stroke="#0000ff" stroke-width="5.6" stroke-linecap="round" stroke-dasharray="0 31.51" stroke-dashoffset="-23.2"/>
</g>
<g fill="none">
<path d="M216.70,697.81 L217.33,696.17 L217.96,694.56 L218.59,692.98 L219.22,691.43 L219.85,689.91 L220.47,688.42 L221.10,686.96 L221.73,685.52 L222.36,684.11 L222.99,682.72 L223.62,681.36 L224.25,680.03 L224.88,678.72 L225.51,677.44 L226.14,676.18 L226.77,674.94 L227.40,673.73 L228.02,672.54 L228.65,671.37 L229.28,670.22 L229.91,669.10 L230.54,667.99 L231.17,666.91 L231.80,665.85 L232.43,664.80 L233.06,663.78 L233.69,662.78 L234.32,661.79 L234.95,660.82 L235.57,659.87 L236.20,658.94 L236.83,658.03 L237.46,657.13 L238.09,656.25 L238.72,655.38 L239.35,654.53 L239.98,653.70 L240.61,652.88 L241.24,652.08 L241.87,651.29 L242.49,650.52 L243.12,649.76 L243.75,649.02 L244.38,648.29 L245.01,647.57 L245.64,646.87 L246.27,646.18 L246.90,645.50 L247.53,644.84 L248.16,644.18 L248.79,643.54 L249.42,642.91 L250.04,642.30 L250.67,641.69 L251.30,641.09 L251.93,640.51 L252.56,639.94 L253.19,639.37 L253.82,638.82 L254.45,638.28 L255.08,637.75 L255.71,637.22 L256.34,636.71 L256.96,636.21 L257.59,635.71 L258.22,635.23 L258.85,634.75 L259.48,634.28 L260.11,633.82 L260.74,633.37 L261.37,632.93 L262.00,632.49 L262.63,632.06 L263.26,631.64 L263.89,631.23 L264.51,630.83 L265.14,630.43 L265.77,630.04 L266.40,629.66 L267.03,629.28 L267.66,628.91 L268.29,628.55 L268.92,628.19 L269.55,627.84 L270.18,627.49 L270.81,627.16 L271.44,626.82 L272.06,626.50 L272.69,626.18 L273.32,625.86 L273.95,625.55 L274.58,625.25 L275.21,624.95 L275.84,624.65 L276.47,624.36 L277.10,624.08 L277.73,623.80 L278.36,623.53 L278.98,623.26 L279.61,622.99 L280.24,622.73 L280.87,622.48 L281.50,622.22 L282.13,621.98 L282.76,621.73 L283.39,621.49 L284.02,621.26 L284.65,621.03 L285.28,620.80 L285.91,620.58 L286.53,620.36 L287.16,620.14 L287.79,619.93 L288.42,619.72 L289.05,619.51 L289.68,619.31 L290.31,619.11 L290.94,618.91 L291.57,618.72 L292.20,618.53 L292.83,618.34 L293.46,618.16 L294.08,617.98 L294.71,617.80 L295.34,617.62 L295.97,617.45 L296.60,617.28 L297.23,617.11 L297.86,616.95 L298.49,616.78 L299.12,616.62 L299.75,616.46 L300.38,616.31 L301.00,616.16 L301.63,616.00 L302.26,615.86 L302.89,615.71 L303.52,615.57 L304.15,615.42 L304.78,615.28 L305.41,615.14 L306.04,615.01 L306.67,614.87 L307.30,614.74 L307.93,614.61 L308.55,614.48 L309.18,614.36 L309.81,614.23 L310.44,614.11 L311.07,613.98 L311.70,613.86 L312.33,613.75 L312.96,613.63 L313.59,613.51 L314.22,613.40 L314.85,613.29 L315.48,613.17 L316.10,613.06 L316.73,612.96 L318.83,612.61 L320.92,612.27 L323.01,611.94 L325.10,611.63 L327.20,611.33 L329.29,611.04 L331.38,610.76 L333.48,610.49 L335.57,610.23 L337.66,609.98 L339.75,609.73 L341.85,609.50 L343.94,609.26 L346.03,609.04 L348.12,608.82 L350.22,608.61 L352.31,608.40 L354.40,608.19 L356.50,607.99 L358.59,607.80 L360.68,607.61 L362.77,607.42 L364.87,607.24 L366.96,607.06 L369.05,606.88 L371.14,606.71 L373.24,606.54 L375.33,606.37 L377.42,606.20 L379.52,606.04 L381.61,605.88 L383.70,605.72 L385.79,605.56 L387.89,605.41 L389.98,605.26 L392.07,605.10 L394.16,604.96 L396.26,604.81 L398.35,604.66 L400.44,604.52 L402.54,604.38 L404.63,604.24 L406.72,604.10 L408.81,603.96 L410.91,603.83 L413.00,603.69 L415.09,603.56 L417.19,603.43 L419.28,603.29 L421.37,603.17 L423.46,603.04 L425.56,602.91 L427.65,602.78 L429.74,602.66 L431.83,602.54 L433.93,602.41 L436.02,602.29 L438.11,602.17 L440.21,602.06 L442.30,601.94 L444.39,601.82 L446.48,601.71 L448.58,601.59 L450.67,601.48 L452.76,601.37 L454.85,601.26 L456.95,601.15 L459.04,601.04 L461.13,600.93 L463.23,600.82 L465.32,600.72 L467.41,600.61 L469.50,600.51 L471.60,600.41 L473.69,600.31 L475.78,600.20 L477.87,600.11 L479.97,600.01 L482.06,599.91 L484.15,599.81 L486.25,599.72 L488.34,599.62 L490.43,599.53 L492.52,599.44 L494.62,599.35 L496.71,599.25 L498.80,599.16 L500.90,599.08 L502.99,598.99 L505.08,598.90 L507.17,598.82 L509.27,598.73 L511.36,598.65 L513.45,598.56 L515.54,598.48 L517.64,598.40 L519.73,598.32 L521.82,598.24 L523.92,598.16 L526.01,598.08 L528.10,598.01 L530.19,597.93 L532.29,597.86 L534.38,597.78 L536.47,597.71 L538.56,597.64 L540.66,597.56 L542.75,597.49 L544.84,597.42 L546.94,597.35 L549.03,597.28 L551.12,597.22 L553.21,597.15 L555.31,597.08 L557.40,597.02 L559.49,596.95 L561.58,596.89 L563.68,596.83 L565.77,596.76 L567.86,596.70 L569.96,596.64 L572.05,596.58 L574.14,596.52 L576.23,596.46 L578.33,596.41 L580.42,596.35 L582.51,596.29 L584.61,596.24 L586.70,596.18 L588.79,596.13 L590.88,596.07 L592.98,596.02 L595.07,595.97 L597.16,595.91 L599.25,595.86 L601.35,595.81 L603.44,595.76 L605.53,595.71 L607.63,595.66 L609.72,595.62 L611.81,595.57 L613.90,595.52 L616.00,595.47 L618.09,595.43 L620.18,595.38 L622.27,595.34 L624.37,595.29 L626.46,595.25 L628.55,595.21 L630.65,595.17 L632.74,595.12 L634.83,595.08 L636.92,595.04 L639.02,595.00 L641.11,594.96 L643.20,594.92 L645.29,594.88 L647.39,594.84 L649.48,594.81 L651.57,594.77 L653.67,594.73 L655.76,594.69 L657.85,594.66 L659.94,594.62 L662.04,594.59 L664.13,594.55 L666.22,594.52 L668.31,594.49 L670.41,594.45 L672.50,594.42 L674.59,594.39 L676.69,594.35 L678.78,594.32 L680.87,594.29 L682.96,594.26 L685.06,594.23 L687.15,594.20 L689.24,594.17 L691.34,594.14 L693.43,594.11 L695.52,594.08 L697.61,594.05 L699.71,594.03 L701.80,594.00 L703.89,593.97 L705.98,593.94 L708.08,593.92 L710.17,593.89 L712.26,593.87 L714.36,593.84 L716.45,593.82 L718.54,593.79 L720.63,593.77 L722.73,593.74 L724.82,593.72 L726.91,593.69 L729.00,593.67 L731.10,593.65 L733.19,593.63 L735.28,593.60 L737.38,593.58 L739.47,593.56 L741.56,593.54 L743.65,593.52 L745.75,593.50 L747.84,593.47 L749.93,593.45 L752.02,593.43 L754.12,593.41 L756.21,593.39 L758.30,593.38 L760.40,593.36 L762.49,593.34 L764.58,593.32 L766.67,593.30 L768.77,593.28 L770.86,593.26 L772.95,593.25 L775.05,593.23 L777.14,593.21 L779.23,593.19 L781.32,593.18 L783.42,593.16 L785.51,593.14 L787.60,593.13 L789.69,593.11 L791.79,593.10 L793.88,593.08 L795.97,593.07 L798.07,593.05 L800.16,593.04 L802.25,593.02 L804.34,593.01 L806.44,592.99 L808.53,592.98 L810.62,592.96 L812.71,592.95 L814.81,592.94 L816.90,592.92" stroke="#000" stroke-width="2.5"/>
<path d="M216.70,656.28 L217.39,655.20 L218.07,654.13 L218.76,653.08 L219.45,652.04 L220.13,651.02 L220.82,650.01 L221.51,649.03 L222.19,648.07 L222.88,647.12 L223.57,646.20 L224.26,645.30 L224.94,644.43 L225.63,643.58 L226.32,642.74 L227.00,641.91 L227.69,641.09 L228.38,640.28 L229.06,639.48 L229.75,638.70 L230.44,637.93 L231.12,637.17 L231.81,636.43 L232.50,635.71 L233.18,635.00 L233.87,634.31 L234.56,633.63 L235.24,632.98 L235.93,632.34 L236.62,631.72 L237.31,631.11 L237.99,630.52 L238.68,629.94 L239.37,629.37 L240.05,628.81 L240.74,628.26 L241.43,627.72 L242.11,627.20 L242.80,626.68 L243.49,626.18 L244.17,625.68 L244.86,625.20 L245.55,624.73 L246.23,624.27 L246.92,623.82 L247.61,623.38 L248.30,622.95 L248.98,622.54 L249.67,622.13 L250.36,621.73 L251.04,621.34 L251.73,620.95 L252.42,620.58 L253.10,620.21 L253.79,619.85 L254.48,619.49 L255.16,619.14 L255.85,618.80 L256.54,618.46 L257.22,618.13 L257.91,617.80 L258.60,617.47 L259.28,617.15 L259.97,616.83 L260.66,616.52 L261.35,616.21 L262.03,615.90 L262.72,615.59 L263.41,615.29 L264.09,614.98 L264.78,614.68 L265.47,614.38 L266.15,614.08 L266.84,613.78 L267.53,613.49 L268.21,613.20 L268.90,612.91 L269.59,612.62 L270.27,612.34 L270.96,612.07 L271.65,611.79 L272.33,611.52 L273.02,611.26 L273.71,611.00 L274.40,610.74 L275.08,610.49 L275.77,610.25 L276.46,610.01 L277.14,609.78 L277.83,609.55 L278.52,609.33 L279.20,609.11 L279.89,608.90 L280.58,608.69 L281.26,608.49 L281.95,608.29 L282.64,608.09 L283.32,607.90 L284.01,607.71 L284.70,607.52 L285.39,607.33 L286.07,607.15 L286.76,606.97 L287.45,606.79 L288.13,606.61 L288.82,606.43 L289.51,606.25 L290.19,606.07 L290.88,605.90 L291.57,605.72 L292.25,605.54 L292.94,605.35 L293.63,605.17 L294.31,604.98 L295.00,604.80 L295.69,604.61 L296.37,604.41 L297.06,604.22 L297.75,604.03 L298.44,603.84 L299.12,603.65 L299.81,603.47 L300.50,603.28 L301.18,603.10 L301.87,602.92 L302.56,602.75 L303.24,602.58 L303.93,602.42 L304.62,602.26 L305.30,602.11 L305.99,601.97 L306.68,601.83 L307.36,601.70 L308.05,601.58 L308.74,601.47 L309.42,601.36 L310.11,601.25 L310.80,601.15 L311.49,601.06 L312.17,600.96 L312.86,600.87 L313.55,600.79 L314.23,600.70 L314.92,600.62 L315.61,600.54 L316.29,600.45 L316.98,600.37 L317.67,600.29 L318.35,600.21 L319.04,600.13 L319.73,600.04 L320.41,599.96 L321.10,599.87 L321.79,599.78 L322.48,599.69 L323.16,599.59 L323.85,599.49 L324.54,599.39 L325.22,599.29 L325.91,599.18 L326.60,599.08 L327.28,598.97 L327.97,598.87 L328.66,598.76 L329.34,598.65 L330.03,598.54 L330.72,598.44 L331.40,598.33 L332.09,598.22 L332.78,598.12 L333.46,598.01 L334.15,597.91 L334.84,597.81 L335.53,597.70 L336.21,597.61 L336.90,597.51 L337.59,597.42 L338.27,597.33 L338.96,597.24 L339.65,597.15 L340.33,597.07 L341.02,596.98 L341.71,596.90 L342.39,596.82 L343.08,596.74 L343.77,596.66 L344.45,596.58 L345.14,596.50 L345.83,596.43 L346.51,596.35 L347.20,596.28 L347.89,596.20 L348.58,596.13 L349.26,596.05 L349.95,595.98 L350.64,595.91 L351.32,595.84 L352.01,595.76 L352.70,595.69 L353.38,595.62 L354.07,595.55 L354.76,595.48 L355.44,595.40 L356.13,595.33 L356.82,595.25 L357.50,595.18 L358.19,595.10 L358.88,595.03 L359.56,594.95 L360.25,594.88 L360.94,594.80 L361.63,594.73 L362.31,594.66 L363.00,594.59 L363.69,594.52 L364.37,594.45 L365.06,594.38 L365.75,594.31 L366.43,594.25 L367.12,594.19 L367.81,594.13 L368.49,594.08 L369.18,594.03 L369.87,593.98 L370.55,593.93 L371.24,593.89 L371.93,593.85 L372.62,593.81 L373.30,593.77 L373.99,593.73 L374.68,593.69 L375.36,593.66 L376.05,593.62 L376.74,593.59 L377.42,593.56 L378.11,593.52 L378.80,593.49 L379.48,593.46 L380.17,593.43 L380.86,593.40 L381.54,593.36 L382.23,593.33 L382.92,593.30 L383.60,593.26 L384.29,593.23 L384.98,593.19 L385.67,593.15 L386.35,593.12 L387.04,593.08 L387.73,593.03 L388.41,592.99 L389.10,592.94 L389.79,592.88 L390.47,592.83 L391.16,592.78 L391.85,592.72 L392.53,592.67 L393.22,592.61 L393.91,592.55 L394.59,592.50 L395.28,592.44 L395.97,592.39 L396.65,592.34 L397.34,592.29 L398.03,592.24 L398.72,592.20 L399.40,592.16 L400.09,592.13 L400.78,592.10 L401.46,592.07 L402.15,592.05 L402.84,592.04 L403.52,592.03 L404.21,592.02 L404.90,592.01 L405.58,592.00 L406.27,591.99 L406.96,591.98 L407.64,591.97 L408.33,591.97 L409.02,591.96 L409.71,591.95 L410.39,591.95 L411.08,591.94 L411.77,591.94 L412.45,591.94 L413.14,591.93 L413.83,591.93 L414.51,591.92 L415.20,591.92 L415.89,591.92 L416.57,591.91 L417.26,591.91 L417.95,591.91 L418.63,591.91 L419.32,591.90 L420.01,591.90 L420.69,591.90 L421.38,591.90 L422.07,591.90" stroke="#b20000" stroke-width="2.8" stroke-dasharray="16 15.5"/>
<path d="M450.38,591.90 L450.60,592.05 L450.82,592.21 L451.04,592.37 L451.27,592.54 L451.49,592.72 L451.71,592.90 L451.93,593.09 L452.16,593.28 L452.38,593.47 L452.60,593.67 L452.82,593.88 L453.04,594.09 L453.27,594.31 L453.49,594.53 L453.71,594.75 L453.93,594.98 L454.16,595.21 L454.38,595.44 L454.60,595.68 L454.82,595.92 L455.05,596.17 L455.27,596.42 L455.49,596.68 L455.71,596.94 L455.93,597.21 L456.16,597.48 L456.38,597.76 L456.60,598.05 L456.82,598.34 L457.05,598.64 L457.27,598.95 L457.49,599.26 L457.71,599.58 L457.93,599.91 L458.16,600.25 L458.38,600.59 L458.60,600.94 L458.82,601.30 L459.05,601.66 L459.27,602.04 L459.49,602.42 L459.71,602.83 L459.94,603.26 L460.16,603.72 L460.38,604.19 L460.60,604.67 L460.82,605.17 L461.05,605.68 L461.27,606.20 L461.49,606.73 L461.71,607.26 L461.94,607.79 L462.16,608.32 L462.38,608.84 L462.60,609.37 L462.82,609.88 L463.05,610.39 L463.27,610.90 L463.49,611.41 L463.71,611.92 L463.94,612.43 L464.16,612.95 L464.38,613.47 L464.60,614.00 L464.82,614.53 L465.05,615.08 L465.27,615.63 L465.49,616.19 L465.71,616.76 L465.94,617.33 L466.16,617.91 L466.38,618.48 L466.60,619.06 L466.83,619.63 L467.05,620.21 L467.27,620.79 L467.49,621.37 L467.71,621.96 L467.94,622.56 L468.16,623.17 L468.38,623.80 L468.60,624.43 L468.83,625.08 L469.05,625.74 L469.27,626.42 L469.49,627.12 L469.71,627.84 L469.94,628.58 L470.16,629.35 L470.38,630.14 L470.60,630.95 L470.83,631.80 L471.05,632.71 L471.27,633.69 L471.49,634.75 L471.71,635.85 L471.94,637.01 L472.16,638.20 L472.38,639.42 L472.60,640.66 L472.83,641.91 L473.05,643.15 L473.27,644.38 L473.49,645.59 L473.72,646.77 L473.94,647.92 L474.16,649.05 L474.38,650.18 L474.60,651.30 L474.83,652.42 L475.05,653.53 L475.27,654.66 L475.49,655.78 L475.72,656.92 L475.94,658.07 L476.16,659.24 L476.38,660.42 L476.60,661.63 L476.83,662.86 L477.05,664.13 L477.27,665.44 L477.49,666.78 L477.72,668.15 L477.94,669.52 L478.16,670.91 L478.38,672.30 L478.60,673.67 L478.83,675.03 L479.05,676.37 L479.27,677.67 L479.49,678.93 L479.72,680.14 L479.94,681.30 L480.16,682.43 L480.38,683.53 L480.61,684.63 L480.83,685.73 L481.05,686.84 L481.27,687.98 L481.49,689.16 L481.72,690.38 L481.94,691.66 L482.16,693.02 L482.38,694.47 L482.61,696.08 L482.83,697.83 L483.05,699.69 L483.27,701.60 L483.49,703.53 L483.72,705.44 L483.94,707.27 L484.16,709.00 L484.38,710.58 L484.61,712.04 L484.83,713.42 L485.05,714.74 L485.27,716.01 L485.49,717.26 L485.72,718.52 L485.94,719.81 L486.16,721.15 L486.38,722.57 L486.61,724.08 L486.83,725.72 L487.05,727.58 L487.27,729.65 L487.50,731.85 L487.72,734.11 L487.94,736.35 L488.16,738.49 L488.38,740.46 L488.61,742.20 L488.83,743.76 L489.05,745.20 L489.27,746.54 L489.50,747.84 L489.72,749.12 L489.94,750.44 L490.16,751.82 L490.38,753.30 L490.61,754.93 L490.83,756.75 L491.05,758.99 L491.27,761.60 L491.50,764.40 L491.72,767.18 L491.94,769.74 L492.16,771.88 L492.38,773.60 L492.61,775.15 L492.83,776.57 L493.05,777.87 L493.27,779.10 L493.50,780.27 L493.72,781.43 L493.94,782.59 L494.16,783.78 L494.39,785.04 L494.61,786.40 L494.83,787.88 L495.05,789.50 L495.27,791.24 L495.50,793.06 L495.72,794.94 L495.94,796.82 L496.16,798.68 L496.39,800.49 L496.61,802.19 L496.83,803.77 L497.05,805.23 L497.27,806.62 L497.50,807.95 L497.72,809.24 L497.94,810.49 L498.16,811.73 L498.39,812.97 L498.61,814.23 L498.83,815.51 L499.05,816.84 L499.27,818.24 L499.50,819.71 L499.72,821.27 L499.94,822.91 L500.16,824.60 L500.39,826.32 L500.61,828.05 L500.83,829.75 L501.05,831.42 L501.28,833.02 L501.50,834.53 L501.72,835.96 L501.94,837.32 L502.16,838.64 L502.39,839.93 L502.61,841.18 L502.83,842.43 L503.05,843.67 L503.28,844.92 L503.50,846.20 L503.72,847.50 L503.94,848.85 L504.16,850.26 L504.39,851.75 L504.61,853.32 L504.83,854.94 L505.05,856.59 L505.28,858.25 L505.50,859.88 L505.72,861.46 L505.94,862.96 L506.16,864.37 L506.39,865.66 L506.61,866.84 L506.83,867.96 L507.05,869.04 L507.28,870.07 L507.50,871.06 L507.72,872.02 L507.94,872.95 L508.17,873.87 L508.39,874.77 L508.61,875.67 L508.83,876.56 L509.05,877.47 L509.28,878.38 L509.50,879.31 L509.72,880.27 L509.94,881.26 L510.17,882.27 L510.39,883.30 L510.61,884.35 L510.83,885.40 L511.05,886.45 L511.28,887.51 L511.50,888.56 L511.72,889.60 L511.94,890.63 L512.17,891.64 L512.39,892.62 L512.61,893.58 L512.83,894.50 L513.05,895.38 L513.28,896.23 L513.50,897.04 L513.72,897.85 L513.94,898.64 L514.17,899.43 L514.39,900.20 L514.61,900.96 L514.83,901.71 L515.06,902.45 L515.28,903.18 L515.50,903.89 L515.72,904.59 L515.94,905.27 L516.17,905.94 L516.39,906.59 L516.61,907.23 L516.83,907.84 L517.06,908.44 L517.28,909.03 L517.50,909.59 L517.72,910.13 L517.94,910.66 L518.17,911.16 L518.39,911.66 L518.61,912.15 L518.83,912.64 L519.06,913.12 L519.28,913.59 L519.50,914.05 L519.72,914.51 L519.95,914.95 L520.17,915.39 L520.39,915.81 L520.61,916.22 L520.83,916.62 L521.06,917.00 L521.28,917.36 L521.50,917.71 L521.72,918.04 L521.95,918.35 L522.17,918.64 L522.39,918.91 L522.61,919.16 L522.83,919.39 L523.06,919.61 L523.28,919.83 L523.50,920.04 L523.72,920.26 L523.95,920.47 L524.17,920.68 L524.39,920.89 L524.61,921.10 L524.83,921.30 L525.06,921.49 L525.28,921.69 L525.50,921.87 L525.72,922.06 L525.95,922.23 L526.17,922.40 L526.39,922.57 L526.61,922.72 L526.84,922.87 L527.06,923.01 L527.28,923.15 L527.50,923.27 L527.72,923.38 L527.95,923.49 L528.17,923.58 L528.39,923.67 L528.61,923.74 L528.84,923.80 L529.06,923.85 L529.28,923.89 L529.50,923.92 L529.72,923.93 L529.95,923.92 L530.17,923.91 L530.39,923.88 L530.61,923.83 L530.84,923.77 L531.06,923.70 L531.28,923.62 L531.50,923.53 L531.72,923.43 L531.95,923.31 L532.17,923.19 L532.39,923.06 L532.61,922.93 L532.84,922.79 L533.06,922.64 L533.28,922.48 L533.50,922.33 L533.73,922.16 L533.95,922.00 L534.17,921.83 L534.39,921.66 L534.61,921.49 L534.84,921.32 L535.06,921.14 L535.28,920.93 L535.50,920.70 L535.73,920.45 L535.95,920.19 L536.17,919.90 L536.39,919.61 L536.61,919.30 L536.84,918.97 L537.06,918.64 L537.28,918.29 L537.50,917.94 L537.73,917.58 L537.95,917.22 L538.17,916.85 L538.39,916.48 L538.61,916.10 L538.84,915.73 L539.06,915.35 L539.28,914.96 L539.50,914.56 L539.73,914.15 L539.95,913.73 L540.17,913.31 L540.39,912.87 L540.62,912.42 L540.84,911.97 L541.06,911.50 L541.28,911.03 L541.50,910.55 L541.73,910.07 L541.95,909.58 L542.17,909.08 L542.39,908.57 L542.62,908.06 L542.84,907.55 L543.06,907.03 L543.28,906.50 L543.50,905.97 L543.73,905.44 L543.95,904.90 L544.17,904.36 L544.39,903.81 L544.62,903.26 L544.84,902.71 L545.06,902.16 L545.28,901.60 L545.50,901.05 L545.73,900.49 L545.95,899.93 L546.17,899.37 L546.39,898.80 L546.62,898.22 L546.84,897.64 L547.06,897.06 L547.28,896.47 L547.51,895.87 L547.73,895.26 L547.95,894.65 L548.17,894.03 L548.39,893.40 L548.62,892.76 L548.84,892.12 L549.06,891.47 L549.28,890.80 L549.51,890.13 L549.73,889.45 L549.95,888.76 L550.17,888.06 L550.39,887.34 L550.62,886.62 L550.84,885.88 L551.06,885.12 L551.28,884.33 L551.51,883.50 L551.73,882.65 L551.95,881.78 L552.17,880.89 L552.39,879.98 L552.62,879.07 L552.84,878.15 L553.06,877.22 L553.28,876.30 L553.51,875.38 L553.73,874.47 L553.95,873.57 L554.17,872.69 L554.40,871.83 L554.62,870.99 L554.84,870.18 L555.06,869.40 L555.28,868.64 L555.51,867.90 L555.73,867.18 L555.95,866.47 L556.17,865.78 L556.40,865.09 L556.62,864.41 L556.84,863.72 L557.06,863.04 L557.28,862.36 L557.51,861.66 L557.73,860.96 L557.95,860.25 L558.17,859.51 L558.40,858.76 L558.62,857.98 L558.84,857.18 L559.06,856.35 L559.28,855.49 L559.51,854.59 L559.73,853.63 L559.95,852.63 L560.17,851.59 L560.40,850.52 L560.62,849.43 L560.84,848.31 L561.06,847.18 L561.29,846.04 L561.51,844.90 L561.73,843.76 L561.95,842.64 L562.17,841.53 L562.40,840.44 L562.62,839.39 L562.84,838.35 L563.06,837.32 L563.29,836.30 L563.51,835.28 L563.73,834.27 L563.95,833.26 L564.17,832.25 L564.40,831.24 L564.62,830.22 L564.84,829.20 L565.06,828.17 L565.29,827.12 L565.51,826.07 L565.73,825.00 L565.95,823.90 L566.17,822.77 L566.40,821.61 L566.62,820.43 L566.84,819.23 L567.06,818.02 L567.29,816.81 L567.51,815.61 L567.73,814.42 L567.95,813.25 L568.18,812.12 L568.40,811.02 L568.62,809.97 L568.84,808.97 L569.06,808.02 L569.29,807.11 L569.51,806.24 L569.73,805.39 L569.95,804.57 L570.18,803.77 L570.40,802.99 L570.62,802.21 L570.84,801.44 L571.06,800.67 L571.29,799.90 L571.51,799.11 L571.73,798.31 L571.95,797.48 L572.18,796.63 L572.40,795.75 L572.62,794.83 L572.84,793.87 L573.06,792.85 L573.29,791.77 L573.51,790.64 L573.73,789.47 L573.95,788.26 L574.18,787.04 L574.40,785.81 L574.62,784.59 L574.84,783.37 L575.07,782.19 L575.29,781.03 L575.51,779.93 L575.73,778.88 L575.95,777.89 L576.18,776.95 L576.40,776.06 L576.62,775.21 L576.84,774.39 L577.07,773.59 L577.29,772.81 L577.51,772.03 L577.73,771.27 L577.95,770.49 L578.18,769.71 L578.40,768.92 L578.62,768.09 L578.84,767.24 L579.07,766.36 L579.29,765.43 L579.51,764.45 L579.73,763.41 L579.95,762.29 L580.18,761.03 L580.40,759.64 L580.62,758.16 L580.84,756.62 L581.07,755.06 L581.29,753.49 L581.51,751.96 L581.73,750.50 L581.96,749.14 L582.18,747.91 L582.40,746.80 L582.62,745.75 L582.84,744.75 L583.07,743.79 L583.29,742.87 L583.51,741.98 L583.73,741.12 L583.96,740.27 L584.18,739.44 L584.40,738.61 L584.62,737.78 L584.84,736.95 L585.07,736.10 L585.29,735.24 L585.51,734.35 L585.73,733.43 L585.96,732.48 L586.18,731.48 L586.40,730.45 L586.62,729.38 L586.85,728.29 L587.07,727.18 L587.29,726.05 L587.51,724.92 L587.73,723.79 L587.96,722.66 L588.18,721.55 L588.40,720.45 L588.62,719.38 L588.85,718.34 L589.07,717.33 L589.29,716.36 L589.51,715.42 L589.73,714.50 L589.96,713.60 L590.18,712.71 L590.40,711.84 L590.62,710.98 L590.85,710.13 L591.07,709.28 L591.29,708.44 L591.51,707.59 L591.73,706.74 L591.96,705.88 L592.18,705.01 L592.40,704.13 L592.62,703.23 L592.85,702.31 L593.07,701.37 L593.29,700.40 L593.51,699.41 L593.74,698.41 L593.96,697.38 L594.18,696.35 L594.40,695.31 L594.62,694.27 L594.85,693.23 L595.07,692.20 L595.29,691.18 L595.51,690.17 L595.74,689.19 L595.96,688.22 L596.18,687.29 L596.40,686.38 L596.62,685.50 L596.85,684.63 L597.07,683.78 L597.29,682.94 L597.51,682.11 L597.74,681.30 L597.96,680.49 L598.18,679.69 L598.40,678.90 L598.62,678.12 L598.85,677.35 L599.07,676.58 L599.29,675.82 L599.51,675.06 L599.74,674.31 L599.96,673.56 L600.18,672.81 L600.40,672.07 L600.63,671.33 L600.85,670.58 L601.07,669.84 L601.29,669.11 L601.51,668.37 L601.74,667.64 L601.96,666.91 L602.18,666.19 L602.40,665.47 L602.63,664.76 L602.85,664.04 L603.07,663.34 L603.29,662.64 L603.51,661.94 L603.74,661.25 L603.96,660.56 L604.18,659.88 L604.40,659.20 L604.63,658.54 L604.85,657.87 L605.07,657.22 L605.29,656.57 L605.51,655.92 L605.74,655.28 L605.96,654.64 L606.18,654.00 L606.40,653.36 L606.63,652.72 L606.85,652.09 L607.07,651.45 L607.29,650.82 L607.52,650.19 L607.74,649.57 L607.96,648.95 L608.18,648.34 L608.40,647.74 L608.63,647.14 L608.85,646.55 L609.07,645.97 L609.29,645.40 L609.52,644.84 L609.74,644.30 L609.96,643.76 L610.18,643.24 L610.40,642.73 L610.63,642.24 L610.85,641.76 L611.07,641.29 L611.29,640.84 L611.52,640.40 L611.74,639.96 L611.96,639.53 L612.18,639.11 L612.40,638.69 L612.63,638.29 L612.85,637.88 L613.07,637.49 L613.29,637.10 L613.52,636.71 L613.74,636.33 L613.96,635.96 L614.18,635.59 L614.41,635.23 L614.63,634.86 L614.85,634.51 L615.07,634.15 L615.29,633.80 L615.52,633.46 L615.74,633.11 L615.96,632.77 L616.18,632.43 L616.41,632.09 L616.63,631.75 L616.85,631.42 L617.07,631.08 L617.29,630.75 L617.52,630.42 L617.74,630.08 L617.96,629.75 L618.18,629.41 L618.41,629.08 L618.63,628.74 L618.85,628.41 L619.07,628.07 L619.29,627.73 L619.52,627.38 L619.74,627.04 L619.96,626.69 L620.18,626.34 L620.41,625.99 L620.63,625.65 L620.85,625.30 L621.07,624.96 L621.30,624.62 L621.52,624.29 L621.74,623.96 L621.96,623.64 L622.18,623.33 L622.41,623.02 L622.63,622.73 L622.85,622.45 L623.07,622.18 L623.30,621.92 L623.52,621.66 L623.74,621.41 L623.96,621.17 L624.18,620.93 L624.41,620.70 L624.63,620.47 L624.85,620.24 L625.07,620.02 L625.30,619.80 L625.52,619.59 L625.74,619.38 L625.96,619.17 L626.18,618.96 L626.41,618.76 L626.63,618.56 L626.85,618.36 L627.07,618.16 L627.30,617.96 L627.52,617.77 L627.74,617.57 L627.96,617.38 L628.19,617.18 L628.41,616.99 L628.63,616.79 L628.85,616.59 L629.07,616.40 L629.30,616.20 L629.52,616.00 L629.74,615.79 L629.96,615.59 L630.19,615.38 L630.41,615.17 L630.63,614.96 L630.85,614.76 L631.07,614.55 L631.30,614.34 L631.52,614.13 L631.74,613.92 L631.96,613.72 L632.19,613.52 L632.41,613.32 L632.63,613.12 L632.85,612.92 L633.07,612.73 L633.30,612.54 L633.52,612.36 L633.74,612.18 L633.96,612.01 L634.19,611.84 L634.41,611.67 L634.63,611.51 L634.85,611.36 L635.08,611.22 L635.30,611.08 L635.52,610.95 L635.74,610.83 L635.96,610.71 L636.19,610.60 L636.41,610.48 L636.63,610.36 L636.85,610.25 L637.08,610.13 L637.30,610.01 L637.52,609.90 L637.74,609.78 L637.96,609.67 L638.19,609.56 L638.41,609.45 L638.63,609.34 L638.85,609.23 L639.08,609.13 L639.30,609.03 L639.52,608.93 L639.74,608.84 L639.96,608.75 L640.19,608.66 L640.41,608.58 L640.63,608.50 L640.85,608.42 L641.08,608.36 L641.30,608.29 L641.52,608.23 L641.74,608.18 L641.97,608.13 L642.19,608.09 L642.41,608.06 L642.63,608.03 L642.85,608.01 L643.08,608.00 L643.30,607.99 L643.52,608.00 L643.74,608.00 L643.97,608.00 L644.19,608.01 L644.41,608.02 L644.63,608.03 L644.85,608.04 L645.08,608.05 L645.30,608.06 L645.52,608.08 L645.74,608.10 L645.97,608.11 L646.19,608.13 L646.41,608.16 L646.63,608.18 L646.86,608.20 L647.08,608.23 L647.30,608.25 L647.52,608.28 L647.74,608.31 L647.97,608.34 L648.19,608.37 L648.41,608.40 L648.63,608.43 L648.86,608.46 L649.08,608.50 L649.30,608.53 L649.52,608.56 L649.74,608.60 L649.97,608.63 L650.19,608.67 L650.41,608.71 L650.63,608.75 L650.86,608.78 L651.08,608.82 L651.30,608.86 L651.52,608.90 L651.74,608.94 L651.97,608.97 L652.19,609.01 L652.41,609.05 L652.63,609.09 L652.86,609.13 L653.08,609.17 L653.30,609.21 L653.52,609.24 L653.75,609.28 L653.97,609.32 L654.19,609.36 L654.41,609.39 L654.63,609.43 L654.86,609.47 L655.08,609.50 L655.30,609.54 L655.52,609.57 L655.75,609.61 L655.97,609.64 L656.19,609.67 L656.41,609.70 L656.63,609.73 L656.86,609.76 L657.08,609.79 L657.30,609.82 L657.52,609.85 L657.75,609.87 L657.97,609.90 L658.19,609.92 L658.41,609.94 L658.63,609.96 L658.86,609.98 L659.08,610.00 L659.30,610.02 L659.52,610.04 L659.75,610.06 L659.97,610.07 L660.19,610.09 L660.41,610.11 L660.64,610.12 L660.86,610.14 L661.08,610.16 L661.30,610.17 L661.52,610.19 L661.75,610.20 L661.97,610.22 L662.19,610.23 L662.41,610.25 L662.64,610.26 L662.86,610.27 L663.08,610.29 L663.30,610.30 L663.52,610.32 L663.75,610.33 L663.97,610.34 L664.19,610.35 L664.41,610.37 L664.64,610.38 L664.86,610.39 L665.08,610.41 L665.30,610.42 L665.52,610.43 L665.75,610.44 L665.97,610.46 L666.19,610.47 L666.41,610.48 L666.64,610.49 L666.86,610.50 L667.08,610.52 L667.30,610.53 L667.53,610.54 L667.75,610.55 L667.97,610.57 L668.19,610.58 L668.41,610.59 L668.64,610.60 L668.86,610.61 L669.08,610.63 L669.30,610.64 L669.53,610.65 L669.75,610.67 L669.97,610.68 L670.19,610.69 L670.41,610.70 L670.64,610.72 L670.86,610.73 L671.08,610.74 L671.30,610.76 L671.53,610.77 L671.75,610.79 L671.97,610.80 L672.19,610.81 L672.41,610.83 L672.64,610.84 L672.86,610.86 L673.08,610.87 L673.30,610.89 L673.53,610.91 L673.75,610.92 L673.97,610.94 L674.19,610.96 L674.42,610.97 L674.64,610.99 L674.86,611.01 L675.08,611.03 L675.30,611.05 L675.53,611.07 L675.75,611.09 L675.97,611.11 L676.19,611.13 L676.42,611.15 L676.64,611.17 L676.86,611.19 L677.08,611.22 L677.30,611.24 L677.53,611.27 L677.75,611.29 L677.97,611.31 L678.19,611.34 L678.42,611.36 L678.64,611.39 L678.86,611.41 L679.08,611.44 L679.30,611.47 L679.53,611.49 L679.75,611.52 L679.97,611.55 L680.19,611.57 L680.42,611.60 L680.64,611.63 L680.86,611.65 L681.08,611.68 L681.31,611.71 L681.53,611.73 L681.75,611.76 L681.97,611.79 L682.19,611.81 L682.42,611.84 L682.64,611.87 L682.86,611.89 L683.08,611.92 L683.31,611.95 L683.53,611.97 L683.75,612.00 L683.97,612.02 L684.19,612.05 L684.42,612.07 L684.64,612.10 L684.86,612.12 L685.08,612.15 L685.31,612.17 L685.53,612.19 L685.75,612.21 L685.97,612.24 L686.19,612.26 L686.42,612.28 L686.64,612.30 L686.86,612.32 L687.08,612.34 L687.31,612.36 L687.53,612.38 L687.75,612.40 L687.97,612.42 L688.20,612.43 L688.42,612.45 L688.64,612.46 L688.86,612.48 L689.08,612.49 L689.31,612.51 L689.53,612.52 L689.75,612.53 L689.97,612.54 L690.20,612.55 L690.42,612.56 L690.64,612.57 L690.86,612.58 L691.08,612.59 L691.31,612.60 L691.53,612.60 L691.75,612.61 L691.97,612.62 L692.20,612.63 L692.42,612.63 L692.64,612.64 L692.86,612.64 L693.08,612.65 L693.31,612.66 L693.53,612.66 L693.75,612.67 L693.97,612.67 L694.20,612.68 L694.42,612.68 L694.64,612.69 L694.86,612.69 L695.09,612.70 L695.31,612.70 L695.53,612.71 L695.75,612.71 L695.97,612.71 L696.20,612.72 L696.42,612.72 L696.64,612.72 L696.86,612.73 L697.09,612.73 L697.31,612.74 L697.53,612.74 L697.75,612.74 L697.97,612.75 L698.20,612.75 L698.42,612.75 L698.64,612.76 L698.86,612.76 L699.09,612.77 L699.31,612.77 L699.53,612.77 L699.75,612.78 L699.97,612.78 L700.20,612.78 L700.42,612.79 L700.64,612.79 L700.86,612.80 L701.09,612.80 L701.31,612.81 L701.53,612.81 L701.75,612.82 L701.98,612.82 L702.20,612.83 L702.42,612.83 L702.64,612.84 L702.86,612.84 L703.09,612.85 L703.31,612.86 L703.53,612.86 L703.75,612.87 L703.98,612.88 L704.20,612.88 L704.42,612.89 L704.64,612.90 L704.86,612.91 L705.09,612.91 L705.31,612.92 L705.53,612.93 L705.75,612.94 L705.98,612.95 L706.20,612.96 L706.42,612.97 L706.64,612.98 L706.87,612.99 L707.09,613.01 L707.31,613.03 L707.53,613.04 L707.75,613.06 L707.98,613.08 L708.20,613.10 L708.42,613.12 L708.64,613.15 L708.87,613.17 L709.09,613.20 L709.31,613.23 L709.53,613.25 L709.75,613.28 L709.98,613.31 L710.20,613.34 L710.42,613.37 L710.64,613.41 L710.87,613.44 L711.09,613.48 L711.31,613.51 L711.53,613.55 L711.75,613.58 L711.98,613.62 L712.20,613.66 L712.42,613.70 L712.64,613.74 L712.87,613.78 L713.09,613.82 L713.31,613.86 L713.53,613.90 L713.76,613.94 L713.98,613.98 L714.20,614.02 L714.42,614.07 L714.64,614.11 L714.87,614.15 L715.09,614.20 L715.31,614.24 L715.53,614.29 L715.76,614.33 L715.98,614.37 L716.20,614.42 L716.42,614.46 L716.64,614.51 L716.87,614.55 L718.56,614.46 L720.26,614.36 L721.95,614.26 L723.65,614.15 L725.34,614.04 L727.04,613.92 L728.74,613.80 L730.43,613.67 L732.13,613.54 L733.82,613.41 L735.52,613.27 L737.21,613.13 L738.91,612.98 L740.60,612.81 L742.30,612.62 L743.99,612.43 L745.69,612.24 L747.39,612.06 L749.08,611.89 L750.78,611.73 L752.47,611.60 L754.17,611.49 L755.86,611.39 L757.56,611.29 L759.25,611.21 L760.95,611.13 L762.64,611.05 L764.34,610.97 L766.04,610.90 L767.73,610.83 L769.43,610.75 L771.12,610.67 L772.82,610.58 L774.51,610.49 L776.21,610.40 L777.90,610.33 L779.60,610.26 L781.29,610.21 L782.99,610.18 L784.69,610.18 L786.38,610.18 L788.08,610.18 L789.77,610.18 L791.47,610.18 L793.16,610.18 L794.86,610.18 L796.55,610.18 L798.25,610.18 L799.95,610.18 L801.64,610.18 L803.34,610.18 L805.03,610.18 L806.73,610.18 L808.42,610.18 L810.12,610.18 L811.81,610.18 L813.51,610.18 L815.20,610.18 L816.90,610.18" stroke="#b20000" stroke-width="2.8" stroke-dasharray="16 15.5" stroke-dashoffset="2.3"/>
<path d="M216.70,964.66 L218.20,964.85 L219.71,965.03 L221.21,965.22 L222.72,965.40 L224.22,965.58 L225.73,965.75 L227.23,965.93 L228.73,966.10 L230.24,966.27 L231.74,966.43 L233.25,966.59 L234.75,966.75 L236.26,966.90 L237.76,967.06 L239.26,967.20 L240.77,967.34 L242.27,967.49 L243.78,967.63 L245.28,967.76 L246.79,967.90 L248.29,968.03 L249.79,968.16 L251.30,968.29 L252.80,968.42 L254.31,968.55 L255.81,968.67 L257.32,968.79 L258.82,968.91 L260.32,969.03 L261.83,969.15 L263.33,969.26 L264.84,969.37 L266.34,969.48 L267.84,969.59 L269.35,969.69 L270.85,969.80 L272.36,969.90 L273.86,970.00 L275.37,970.10 L276.87,970.20 L278.37,970.30 L279.88,970.40 L281.38,970.50 L282.89,970.59 L284.39,970.69 L285.90,970.78 L287.40,970.87 L288.90,970.96 L290.41,971.05 L291.91,971.13 L293.42,971.21 L294.92,971.28 L296.43,971.36 L297.93,971.43 L299.43,971.49 L300.94,971.55 L302.44,971.61 L303.95,971.66 L305.45,971.70 L306.96,971.75 L308.46,971.79 L309.96,971.83 L311.47,971.87 L312.97,971.90 L314.48,971.94 L315.98,971.97 L317.49,972.00 L318.99,972.04 L320.49,972.07 L322.00,972.10 L323.50,972.13 L325.01,972.16 L326.51,972.20 L328.02,972.23 L329.52,972.27 L331.02,972.31 L332.53,972.35 L334.03,972.39 L335.54,972.43 L337.04,972.48 L338.55,972.53 L340.05,972.59 L341.55,972.64 L343.06,972.70 L344.56,972.76 L346.07,972.82 L347.57,972.88 L349.07,972.94 L350.58,973.00 L352.08,973.07 L353.59,973.13 L355.09,973.19 L356.60,973.25 L358.10,973.31 L359.60,973.37 L361.11,973.43 L362.61,973.49 L364.12,973.55 L365.62,973.60 L367.13,973.65 L368.63,973.70 L370.13,973.75 L371.64,973.80 L373.14,973.85 L374.65,973.90 L376.15,973.95 L377.66,974.00 L379.16,974.04 L380.66,974.09 L382.17,974.14 L383.67,974.18 L385.18,974.23 L386.68,974.27 L388.19,974.32 L389.69,974.36 L391.19,974.41 L392.70,974.45 L394.20,974.50 L395.71,974.54 L397.21,974.58 L398.72,974.62 L400.22,974.67 L401.72,974.71 L403.23,974.75 L404.73,974.80 L406.24,974.84 L407.74,974.89 L409.25,974.93 L410.75,974.97 L412.25,975.02 L413.76,975.06 L415.26,975.10 L416.77,975.14 L418.27,975.18 L419.78,975.22 L421.28,975.25 L422.78,975.28 L424.29,975.31 L425.79,975.34 L427.30,975.37 L428.80,975.39 L430.31,975.41 L431.81,975.43 L433.31,975.45 L434.82,975.47 L436.32,975.49 L437.83,975.51 L439.33,975.53 L440.83,975.54 L442.34,975.56 L443.84,975.57 L445.35,975.59 L446.85,975.60 L448.36,975.62 L449.86,975.63 L451.36,975.65 L452.87,975.66 L454.37,975.67 L455.88,975.68 L457.38,975.70 L458.89,975.71 L460.39,975.72 L461.89,975.73 L463.40,975.74 L464.90,975.75 L466.41,975.77 L467.91,975.78 L469.42,975.79 L470.92,975.80 L472.42,975.81 L473.93,975.82 L475.43,975.84 L476.94,975.85 L478.44,975.86 L479.95,975.87 L481.45,975.89 L482.95,975.90 L484.46,975.91 L485.96,975.93 L487.47,975.94 L488.97,975.96 L490.48,975.97 L491.98,975.99 L493.48,976.01 L494.99,976.02 L496.49,976.04 L498.00,976.06 L499.50,976.08 L501.01,976.10 L502.51,976.12 L504.01,976.14 L505.52,976.16 L507.02,976.18 L508.53,976.21 L510.03,976.23 L511.54,976.25 L513.04,976.27 L514.54,976.30 L516.05,976.32 L517.55,976.34 L519.06,976.37 L520.56,976.39 L522.06,976.41 L523.57,976.43 L525.07,976.46 L526.58,976.48 L528.08,976.50 L529.59,976.52 L531.09,976.54 L532.59,976.56 L534.10,976.58 L535.60,976.60 L537.11,976.62 L538.61,976.64 L540.12,976.66 L541.62,976.67 L543.12,976.69 L544.63,976.70 L546.13,976.72 L547.64,976.73 L549.14,976.74 L550.65,976.76 L552.15,976.77 L553.65,976.78 L555.16,976.78 L556.66,976.79 L558.17,976.80 L559.67,976.80 L561.18,976.81 L562.68,976.82 L564.18,976.82 L565.69,976.83 L567.19,976.83 L568.70,976.84 L570.20,976.84 L571.71,976.85 L573.21,976.85 L574.71,976.86 L576.22,976.86 L577.72,976.86 L579.23,976.87 L580.73,976.87 L582.24,976.88 L583.74,976.88 L585.24,976.88 L586.75,976.89 L588.25,976.89 L589.76,976.89 L591.26,976.90 L592.77,976.90 L594.27,976.90 L595.77,976.91 L597.28,976.91 L598.78,976.92 L600.29,976.92 L601.79,976.92 L603.29,976.93 L604.80,976.93 L606.30,976.94 L607.81,976.94 L609.31,976.95 L610.82,976.95 L612.32,976.96 L613.82,976.97 L615.33,976.97 L616.83,976.98 L618.34,976.99 L619.84,977.00 L621.35,977.01 L622.85,977.02 L624.35,977.03 L625.86,977.04 L627.36,977.06 L628.87,977.07 L630.37,977.09 L631.88,977.11 L633.38,977.12 L634.88,977.14 L636.39,977.16 L637.89,977.18 L639.40,977.20 L640.90,977.21 L642.41,977.23 L643.91,977.25 L645.41,977.27 L646.92,977.29 L648.42,977.31 L649.93,977.33 L651.43,977.35 L652.94,977.37 L654.44,977.39 L655.94,977.40 L657.45,977.42 L658.95,977.44 L660.46,977.45 L661.96,977.47 L663.47,977.49 L664.97,977.50 L666.47,977.51 L667.98,977.52 L669.48,977.53 L670.99,977.54 L672.49,977.55 L674.00,977.56 L675.50,977.57 L677.00,977.57 L678.51,977.57 L680.01,977.58 L681.52,977.58 L683.02,977.58 L684.53,977.57 L686.03,977.57 L687.53,977.56 L689.04,977.56 L690.54,977.55 L692.05,977.54 L693.55,977.54 L695.05,977.53 L696.56,977.52 L698.06,977.51 L699.57,977.50 L701.07,977.48 L702.58,977.47 L704.08,977.46 L705.58,977.45 L707.09,977.43 L708.59,977.42 L710.10,977.40 L711.60,977.39 L713.11,977.38 L714.61,977.36 L716.11,977.34 L717.62,977.32 L719.12,977.30 L720.63,977.28 L722.13,977.25 L723.64,977.22 L725.14,977.19 L726.64,977.16 L728.15,977.13 L729.65,977.10 L731.16,977.07 L732.66,977.03 L734.17,977.00 L735.67,976.97 L737.17,976.93 L738.68,976.90 L740.18,976.86 L741.69,976.83 L743.19,976.80 L744.70,976.76 L746.20,976.73 L747.70,976.70 L749.21,976.66 L750.71,976.63 L752.22,976.60 L753.72,976.56 L755.23,976.52 L756.73,976.49 L758.23,976.45 L759.74,976.42 L761.24,976.38 L762.75,976.34 L764.25,976.30 L765.76,976.26 L767.26,976.22 L768.76,976.18 L770.27,976.14 L771.77,976.09 L773.28,976.05 L774.78,976.01 L776.28,975.96 L777.79,975.91 L779.29,975.86 L780.80,975.81 L782.30,975.76 L783.81,975.70 L785.31,975.65 L786.81,975.59 L788.32,975.54 L789.82,975.48 L791.33,975.42 L792.83,975.36 L794.34,975.30 L795.84,975.24 L797.34,975.18 L798.85,975.12 L800.35,975.06 L801.86,974.99 L803.36,974.93 L804.87,974.87 L806.37,974.82 L807.87,974.76 L809.38,974.70 L810.88,974.64 L812.39,974.58 L813.89,974.52 L815.40,974.46 L816.90,974.40" stroke="#0000ff" stroke-width="2.7" stroke-dasharray="15.6 15.91"/>
<path d="M216.70,964.66 L218.20,964.85 L219.71,965.03 L221.21,965.22 L222.72,965.40 L224.22,965.58 L225.73,965.75 L227.23,965.93 L228.73,966.10 L230.24,966.27 L231.74,966.43 L233.25,966.59 L234.75,966.75 L236.26,966.90 L237.76,967.06 L239.26,967.20 L240.77,967.34 L242.27,967.49 L243.78,967.63 L245.28,967.76 L246.79,967.90 L248.29,968.03 L249.79,968.16 L251.30,968.29 L252.80,968.42 L254.31,968.55 L255.81,968.67 L257.32,968.79 L258.82,968.91 L260.32,969.03 L261.83,969.15 L263.33,969.26 L264.84,969.37 L266.34,969.48 L267.84,969.59 L269.35,969.69 L270.85,969.80 L272.36,969.90 L273.86,970.00 L275.37,970.10 L276.87,970.20 L278.37,970.30 L279.88,970.40 L281.38,970.50 L282.89,970.59 L284.39,970.69 L285.90,970.78 L287.40,970.87 L288.90,970.96 L290.41,971.05 L291.91,971.13 L293.42,971.21 L294.92,971.28 L296.43,971.36 L297.93,971.43 L299.43,971.49 L300.94,971.55 L302.44,971.61 L303.95,971.66 L305.45,971.70 L306.96,971.75 L308.46,971.79 L309.96,971.83 L311.47,971.87 L312.97,971.90 L314.48,971.94 L315.98,971.97 L317.49,972.00 L318.99,972.04 L320.49,972.07 L322.00,972.10 L323.50,972.13 L325.01,972.16 L326.51,972.20 L328.02,972.23 L329.52,972.27 L331.02,972.31 L332.53,972.35 L334.03,972.39 L335.54,972.43 L337.04,972.48 L338.55,972.53 L340.05,972.59 L341.55,972.64 L343.06,972.70 L344.56,972.76 L346.07,972.82 L347.57,972.88 L349.07,972.94 L350.58,973.00 L352.08,973.07 L353.59,973.13 L355.09,973.19 L356.60,973.25 L358.10,973.31 L359.60,973.37 L361.11,973.43 L362.61,973.49 L364.12,973.55 L365.62,973.60 L367.13,973.65 L368.63,973.70 L370.13,973.75 L371.64,973.80 L373.14,973.85 L374.65,973.90 L376.15,973.95 L377.66,974.00 L379.16,974.04 L380.66,974.09 L382.17,974.14 L383.67,974.18 L385.18,974.23 L386.68,974.27 L388.19,974.32 L389.69,974.36 L391.19,974.41 L392.70,974.45 L394.20,974.50 L395.71,974.54 L397.21,974.58 L398.72,974.62 L400.22,974.67 L401.72,974.71 L403.23,974.75 L404.73,974.80 L406.24,974.84 L407.74,974.89 L409.25,974.93 L410.75,974.97 L412.25,975.02 L413.76,975.06 L415.26,975.10 L416.77,975.14 L418.27,975.18 L419.78,975.22 L421.28,975.25 L422.78,975.28 L424.29,975.31 L425.79,975.34 L427.30,975.37 L428.80,975.39 L430.31,975.41 L431.81,975.43 L433.31,975.45 L434.82,975.47 L436.32,975.49 L437.83,975.51 L439.33,975.53 L440.83,975.54 L442.34,975.56 L443.84,975.57 L445.35,975.59 L446.85,975.60 L448.36,975.62 L449.86,975.63 L451.36,975.65 L452.87,975.66 L454.37,975.67 L455.88,975.68 L457.38,975.70 L458.89,975.71 L460.39,975.72 L461.89,975.73 L463.40,975.74 L464.90,975.75 L466.41,975.77 L467.91,975.78 L469.42,975.79 L470.92,975.80 L472.42,975.81 L473.93,975.82 L475.43,975.84 L476.94,975.85 L478.44,975.86 L479.95,975.87 L481.45,975.89 L482.95,975.90 L484.46,975.91 L485.96,975.93 L487.47,975.94 L488.97,975.96 L490.48,975.97 L491.98,975.99 L493.48,976.01 L494.99,976.02 L496.49,976.04 L498.00,976.06 L499.50,976.08 L501.01,976.10 L502.51,976.12 L504.01,976.14 L505.52,976.16 L507.02,976.18 L508.53,976.21 L510.03,976.23 L511.54,976.25 L513.04,976.27 L514.54,976.30 L516.05,976.32 L517.55,976.34 L519.06,976.37 L520.56,976.39 L522.06,976.41 L523.57,976.43 L525.07,976.46 L526.58,976.48 L528.08,976.50 L529.59,976.52 L531.09,976.54 L532.59,976.56 L534.10,976.58 L535.60,976.60 L537.11,976.62 L538.61,976.64 L540.12,976.66 L541.62,976.67 L543.12,976.69 L544.63,976.70 L546.13,976.72 L547.64,976.73 L549.14,976.74 L550.65,976.76 L552.15,976.77 L553.65,976.78 L555.16,976.78 L556.66,976.79 L558.17,976.80 L559.67,976.80 L561.18,976.81 L562.68,976.82 L564.18,976.82 L565.69,976.83 L567.19,976.83 L568.70,976.84 L570.20,976.84 L571.71,976.85 L573.21,976.85 L574.71,976.86 L576.22,976.86 L577.72,976.86 L579.23,976.87 L580.73,976.87 L582.24,976.88 L583.74,976.88 L585.24,976.88 L586.75,976.89 L588.25,976.89 L589.76,976.89 L591.26,976.90 L592.77,976.90 L594.27,976.90 L595.77,976.91 L597.28,976.91 L598.78,976.92 L600.29,976.92 L601.79,976.92 L603.29,976.93 L604.80,976.93 L606.30,976.94 L607.81,976.94 L609.31,976.95 L610.82,976.95 L612.32,976.96 L613.82,976.97 L615.33,976.97 L616.83,976.98 L618.34,976.99 L619.84,977.00 L621.35,977.01 L622.85,977.02 L624.35,977.03 L625.86,977.04 L627.36,977.06 L628.87,977.07 L630.37,977.09 L631.88,977.11 L633.38,977.12 L634.88,977.14 L636.39,977.16 L637.89,977.18 L639.40,977.20 L640.90,977.21 L642.41,977.23 L643.91,977.25 L645.41,977.27 L646.92,977.29 L648.42,977.31 L649.93,977.33 L651.43,977.35 L652.94,977.37 L654.44,977.39 L655.94,977.40 L657.45,977.42 L658.95,977.44 L660.46,977.45 L661.96,977.47 L663.47,977.49 L664.97,977.50 L666.47,977.51 L667.98,977.52 L669.48,977.53 L670.99,977.54 L672.49,977.55 L674.00,977.56 L675.50,977.57 L677.00,977.57 L678.51,977.57 L680.01,977.58 L681.52,977.58 L683.02,977.58 L684.53,977.57 L686.03,977.57 L687.53,977.56 L689.04,977.56 L690.54,977.55 L692.05,977.54 L693.55,977.54 L695.05,977.53 L696.56,977.52 L698.06,977.51 L699.57,977.50 L701.07,977.48 L702.58,977.47 L704.08,977.46 L705.58,977.45 L707.09,977.43 L708.59,977.42 L710.10,977.40 L711.60,977.39 L713.11,977.38 L714.61,977.36 L716.11,977.34 L717.62,977.32 L719.12,977.30 L720.63,977.28 L722.13,977.25 L723.64,977.22 L725.14,977.19 L726.64,977.16 L728.15,977.13 L729.65,977.10 L731.16,977.07 L732.66,977.03 L734.17,977.00 L735.67,976.97 L737.17,976.93 L738.68,976.90 L740.18,976.86 L741.69,976.83 L743.19,976.80 L744.70,976.76 L746.20,976.73 L747.70,976.70 L749.21,976.66 L750.71,976.63 L752.22,976.60 L753.72,976.56 L755.23,976.52 L756.73,976.49 L758.23,976.45 L759.74,976.42 L761.24,976.38 L762.75,976.34 L764.25,976.30 L765.76,976.26 L767.26,976.22 L768.76,976.18 L770.27,976.14 L771.77,976.09 L773.28,976.05 L774.78,976.01 L776.28,975.96 L777.79,975.91 L779.29,975.86 L780.80,975.81 L782.30,975.76 L783.81,975.70 L785.31,975.65 L786.81,975.59 L788.32,975.54 L789.82,975.48 L791.33,975.42 L792.83,975.36 L794.34,975.30 L795.84,975.24 L797.34,975.18 L798.85,975.12 L800.35,975.06 L801.86,974.99 L803.36,974.93 L804.87,974.87 L806.37,974.82 L807.87,974.76 L809.38,974.70 L810.88,974.64 L812.39,974.58 L813.89,974.52 L815.40,974.46 L816.90,974.40" stroke="#0000ff" stroke-width="5.6" stroke-linecap="round" stroke-dasharray="0 31.51" stroke-dashoffset="-23.2"/>
</g>
</svg>
</body></html>
